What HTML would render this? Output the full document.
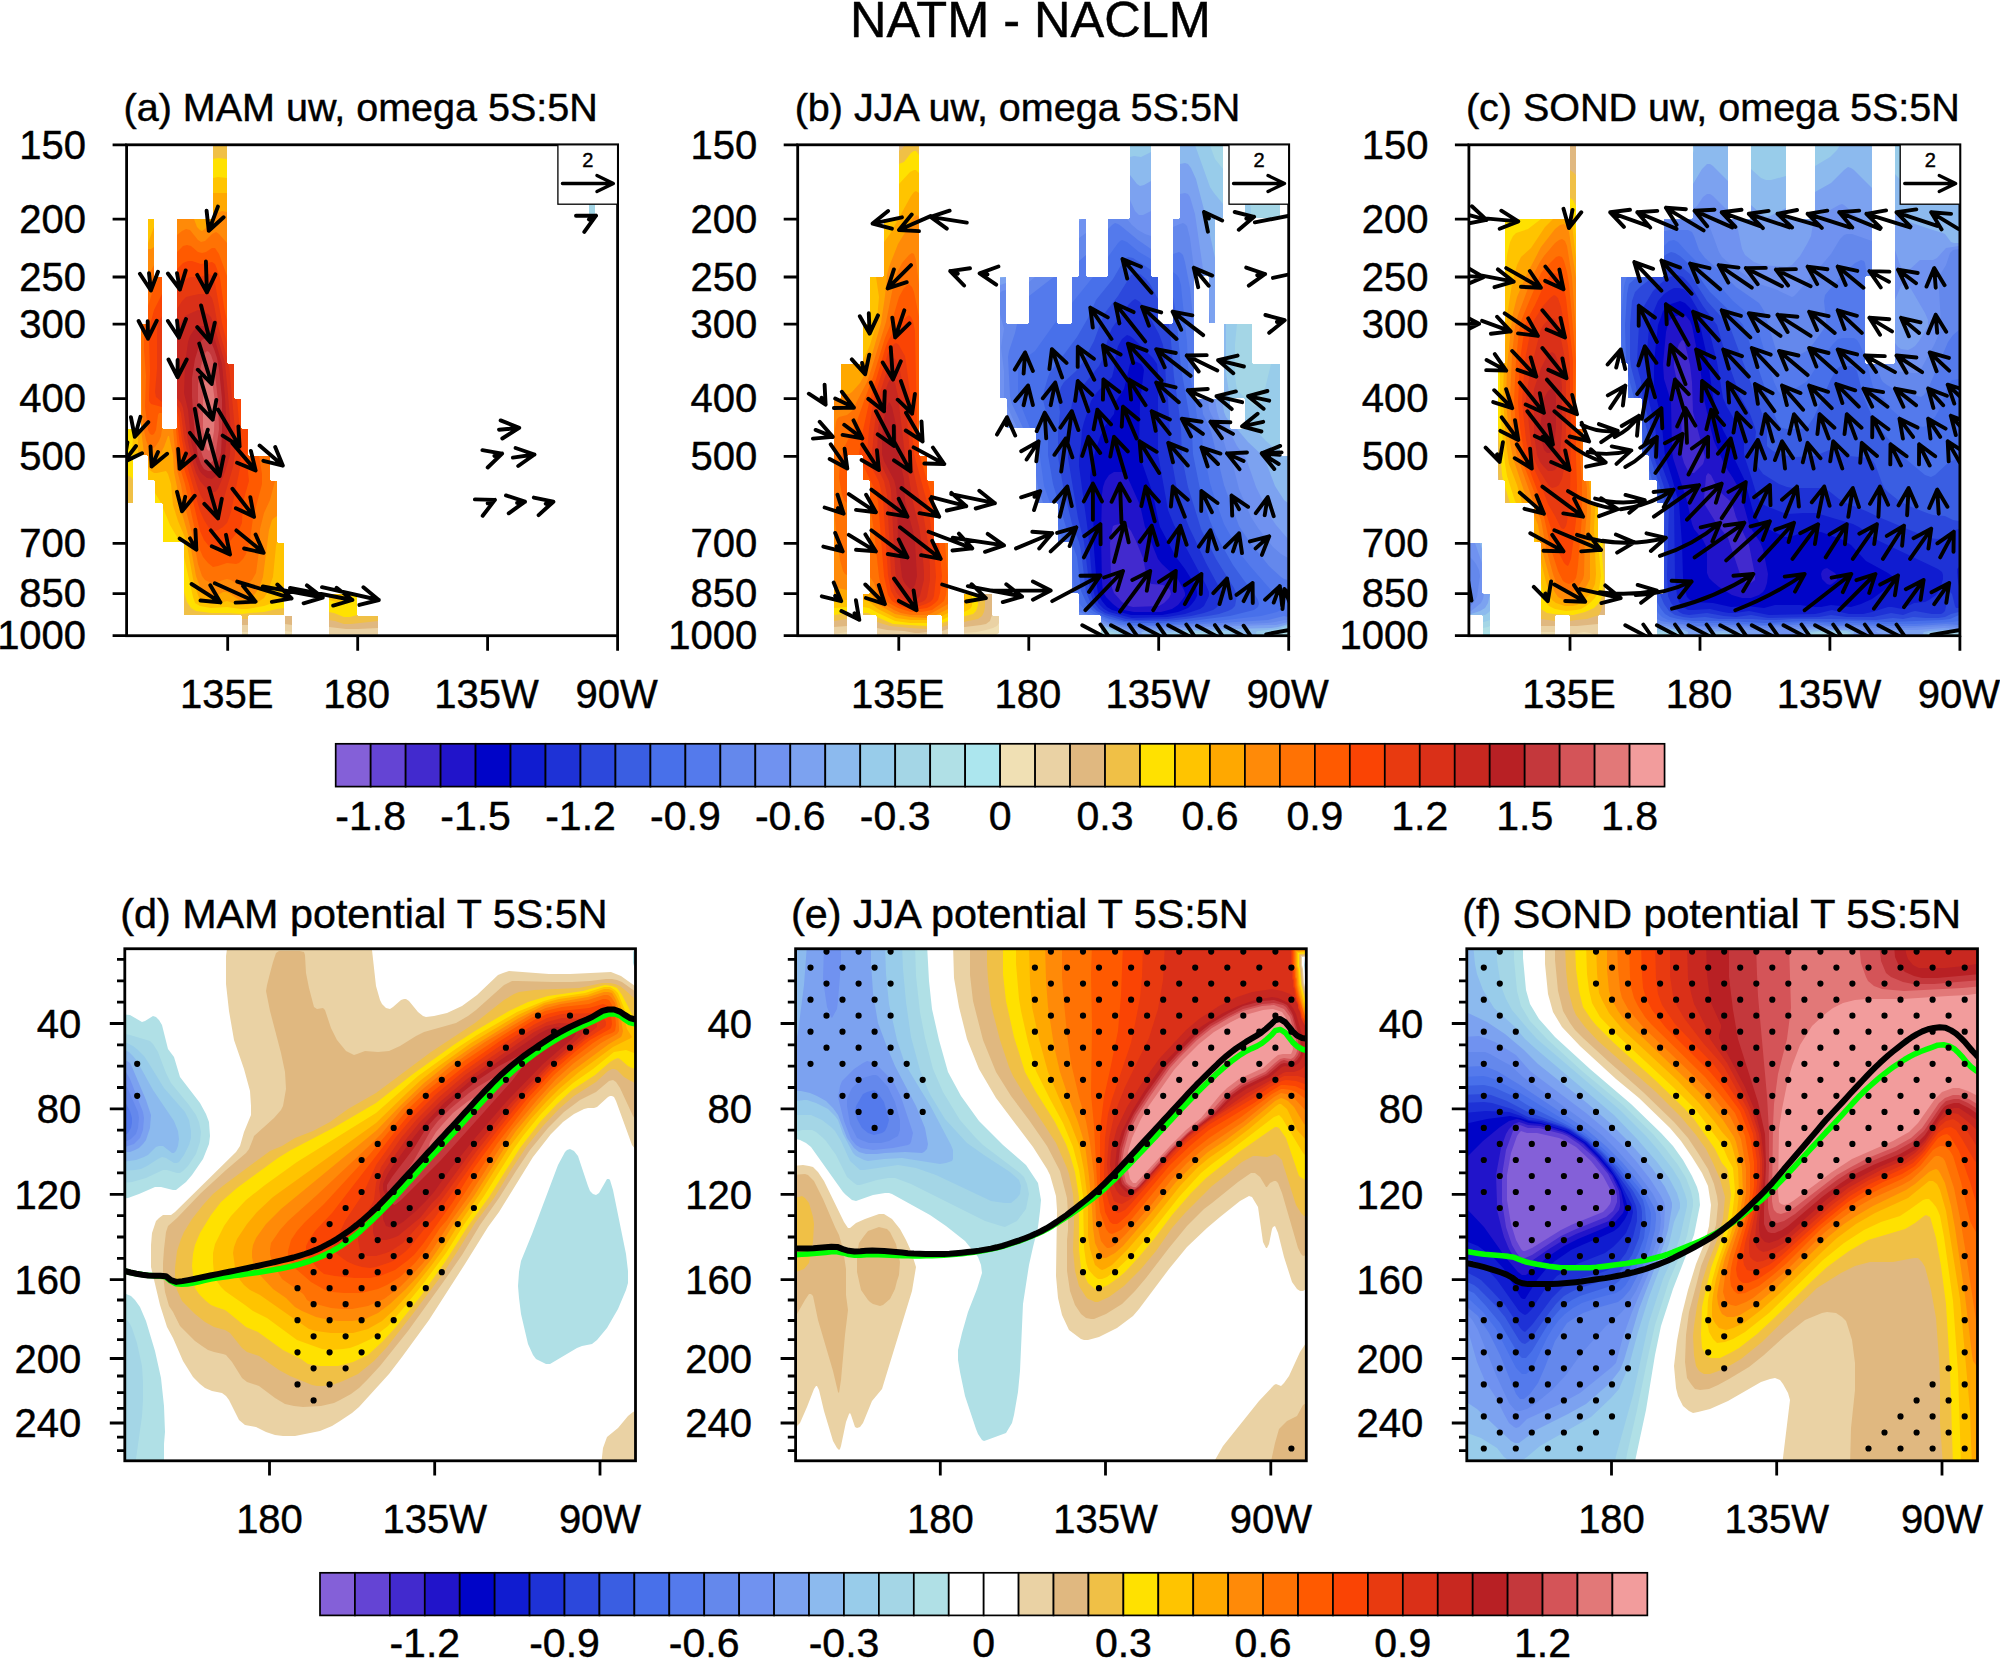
<!DOCTYPE html>
<html><head><meta charset="utf-8"><title>NATM - NACLM</title>
<style>html,body{margin:0;padding:0;background:#fff}svg{display:block}text{font-family:"Liberation Sans",sans-serif;fill:#000;stroke:#000;stroke-width:.45px}</style>
</head><body>
<svg width="2000" height="1659" viewBox="0 0 2000 1659">
<rect width="2000" height="1659" fill="#fff"/>
<defs>
<clipPath id="ct0"><rect x="126.6" y="144.8" width="491" height="490.90"/></clipPath>
<clipPath id="ct1"><rect x="797.7" y="144.8" width="491" height="490.90"/></clipPath>
<clipPath id="ct2"><rect x="1468.9" y="144.8" width="491" height="490.90"/></clipPath>
</defs>
<g clip-path="url(#ct0)" fill-rule="evenodd">
<path fill="#f0e0b4" d="M248 635l-6 0 0-19-1-1-57 0 0-72-1-1-20 0 0-38-1-1-7 0 0-22-1-1-6 0 0-24-1-1-13 0-1 1 0 47-6 0 0-74 13 0 1-1 0-104 6 0 1-1 0-104 6 0 0 57 1 1 7 0 0 151 1 1 5 0 8 0 1-1 0-209 35 0 1-1 0-73 14 0 0 218 1 1 6 0 0 34 1 1 6 0 0 29 1 1 6 0 0 26 1 1 21 0 0 24 1 1 6 0 0 61 1 1 6 0 0 72-35 0-1 1zM378 635l-49 0 0-41 28 0 0 21 1 1 20 0zM292 635l-7 0 0-19 7 0z"/>
<path fill="#ead2a4" d="M248 632l-6 0 0-16-1-1-57 0 0-72-1-1-20 0 0-38-1-1-7 0 0-22-1-1-6 0 0-24-1-1-13 0-1 1 0 47-6 0 0-74 13 0 1-1 0-104 6 0 1-1 0-104 6 0 0 57 1 1 7 0 0 151 1 1 5 0 8 0 1-1 0-209 35 0 1-1 0-73 14 0 0 218 1 1 6 0 0 34 1 1 6 0 0 29 1 1 6 0 0 26 1 1 21 0 0 24 1 1 6 0 0 61 1 1 6 0 0 72-35 0-1 1zM367 634l-38 0 0-40 28 0 0 21 1 1 20 0 0 18zM292 632l-7-1 0-15 7 0z"/>
<path fill="#e0b880" d="M248 625l-6 0 0-9-1-1-57 0 0-72-1-1-20 0 0-38-1-1-7 0 0-22-1-1-6 0 0-24-1-1-13 0-1 1 0 47-6 0 0-74 13 0 1-1 0-104 6 0 1-1 0-104 6 0 0 57 1 1 7 0 0 151 1 1 5 0 8 0 1-1 0-209 35 0 1-1 0-73 14 0 0 218 1 1 6 0 0 34 1 1 6 0 0 29 1 1 6 0 0 26 1 1 21 0 0 24 1 1 6 0 0 61 1 1 6 0 0 72-35 0-1 1zM358 629l-12 0-17-2 0-33 28 0 0 21 1 1 20 0 0 12zM292 625l-7-1 0-8 7 0z"/>
<path fill="#f0c046" d="M242 619l0-3-1-1-57 0 0-72-1-1-20 0 0-38-1-1-7 0 0-22-1-1-6 0 0-24-1-1-13 0-1 1 0 47-6 0 0-74 13 0 1-1 0-104 6 0 1-1 0-104 6 0 0 57 1 1 7 0 0 151 1 1 5 0 8 0 1-1 0-209 35 0 1-1 0-73 14 0 0 218 1 1 6 0 0 34 1 1 6 0 0 29 1 1 6 0 0 26 1 1 21 0 0 24 1 1 6 0 0 61 1 1 6 0 0 72-35 0-1 1 0 3zM351 624l-7 0-9-3-6-1 0-26 28 0 0 21 1 1 20 0 0 5z"/>
<path fill="#ffe100" d="M250 613l-8 1-13-1-18 0-15-2-5-3-4-6-3-10 0-49-1-1-20 0 0-38-1-1-7 0 0-22-1-1-6 0 0-24-1-1-13 0-1 1 0 24-2-3-4-2 0-46 13 0 1-1 0-104 6 0 1-1 0-104 6 0 0 57 1 1 7 0 0 151 1 1 13 0 1-1 0-209 35 0 1-1 0-59 5-1 9 1 0 204 1 1 6 0 0 34 1 1 6 0 0 29 1 1 6 0 0 26 1 1 21 0 0 24 1 1 6 0 0 61 1 1 6 0 0 65-7 1-13 3zM350 617l-6 0-10-4-5-1 0-18 28 0 0 21z"/>
<path fill="#ffc400" d="M247 609l-6 0-14-2-16 1-11-2-5-3-2-6-9-40 0-14-1-1-3 0-10-17-7-17 0-4-1-1-1 0-6-10 0-12-1-1-6 0 0-24-1-1-13 0-1 1-1-3 1-17-1-7 8 0 1-1 0-104 6 0 1-1 0-104 6 0 0 57 1 1 7 0 0 151 1 1 13 0 1-1 0-209 35 0 1-1 0-40 5-1 9 1 0 185 1 1 6 0 0 34 1 1 6 0 0 29 1 1 6 0 0 26 1 1 21 0 0 24 1 1 6 0 0 61 1 1 6 0 0 56-20 7zM343 604l-14-4 0-6 24 0-4 7-3 2z"/>
<path fill="#ffa800" d="M247 605l-7 0-13-4-11 3-5 0-8-3-4-3-2-6-4-13-7-39-8-19-5-16-2-21-3-10-2-3-9 2-3 0-3-2-3-3 0-12-1-1-8 0-1-3 0-13-1-10 3 0 1-1 0-104 6 0 1-1 0-80 6-16 0 49 1 1 7 0 0 151 1 1 13 0 1-1 0-209 35 0 1-1 0-25 5 0 9 0 0 170 1 1 6 0 0 34 1 1 6 0 0 29 1 1 6 0 0 26 1 1 21 0 0 24 1 1 6 0 0 60-1 5-3 31-6 16-3 5-6 4z"/>
<path fill="#ff8a08" d="M246 600l-4 0-3 0-10-7-3-1-3 0-8 5-4 0-6-4-5-6-4-11-7-38-10-35-2-16-3-15-1-17-4-19-1 0-4 11-6 11-3 3-4 1-3-2 0-4-1-1-3 0 0-1-3-25 0-105 6 0 1-1 0-74 3 0 3-2 0 29 1 1 7 0 0 151 1 1 13 0 1-1 0-209 17 0 3 8 3 3 2 1 4-3 11-15 5-2 5 1 0 151 1 1 6 0 0 34 1 1 6 0 0 29 1 1 6 0 0 26 1 1 21 0 0 24 1 1 6 0 0 35-3 2-2 2-3 10-6 47-3 9-5 8-4 4z"/>
<path fill="#ff7204" d="M245 586l-3 1-2-1-9-6-4-1-4 1-8 3-4 0-6-3-3-4-4-12-4-22-6-24-4-15-3-18-4-15-4-41 3 0 1-1 0-193 5-4 4-2 4 1 8 10 3 2 4-1 7-7 4-2 3 2 8 9 0 120 1 1 6 0 0 34 1 1 6 0 0 29 1 1 6 0 0 26 1 1 21 0 0 24 1 1 4 0-5 19-6 13-2 8-2 8-1 22-3 22-4 7zM152 449l-2 0-1-1-3-8-2-10-2-20-1-86 6 0 1-1 0-47 6-11 0 11 1 1 7 0 0 152-1 7-2 5-4 6z"/>
<path fill="#ff5a00" d="M218 566l-5 1-5-4-5-6-3-7-4-15-11-51-5-16-3-27-1-12 1-1 0-176 6-6 4-1 4 1 7 6 4 1 4-1 6-4 3 0 4 6 8 22 0 87 1 1 6 0 0 34 1 1 6 0 0 29 1 1 6 0 0 26 1 1 10 0 3 18 0 10-9 34-3 22-4 14-3 5-4 4-3 1-9-1zM152 435l-2-1-2-4-3-23 1-31-2-26 0-24 1-2 2 0 1-1 0-17 5-16 6-13 3 0 0 136-3 0-1 2-2 15-2 4z"/>
<path fill="#fa4404" d="M217 549l-4 0-5-4-4-5-4-9-11-47-6-19-4-27-2-18 0-151 6-6 5-2 4 0 9 3 11-2 3 2 2 5 3 9 4 29 3 14 0 42 1 1 6 0 0 34 1 1 6 0 0 29 1 1 6 0-1 33 2 19-6 21-1 21-3 7-8 10-5 4zM162 407l-11-3-2-3 0-5 1-25-1-31 1-15 4-15 8-16z"/>
<path fill="#e83a10" d="M218 530l-3 1-2 0-4-3-5-8-4-9-14-49-4-22-3-22-2-7 0-121 5-8 4-3 4-2 10 0 9-3 2 1 2 1 2 7 7 40 5 20 0 20 1 1 6 0 0 1 0 33 1 1 2 0 3 33 1 23-1 13-9 44-2 6-2 5-4 4zM162 402l-6-5-1-5 2-23 0-39 1-7 4-7z"/>
<path fill="#da3018" d="M214 509l-3 0-5-5-5-8-3-7-9-29-5-22-3-25-2-5-2-3 0-96 5-8 4-4 4-1 9-2 10 0 3 4 2 7 4 21 9 32 0 5 2 2 6 65 0 24-2 13-9 31-5 8z"/>
<path fill="#c82820" d="M215 492l-4 0-5-4-6-7-4-8-4-13-4-18-5-34-2-5-4-5 0-59 2-11 2-6 4-6 6-3 7-3 5 1 5 3 3 3 3 8 11 38 3 31 3 38-1 23-5 17-7 17z"/>
<path fill="#b82024" d="M212 479l-5-1-5-4-3-4-3-8-5-21-3-31-4-17 1-29 3-22 2-6 4-6 3-3 4-1 4 0 4 3 3 4 3 7 7 24 3 33 2 36-2 21-2 8-3 8-4 6z"/>
<path fill="#c4383c" d="M211 471l-3 0-4-2-3-5-3-8-3-19-3-40 0-19 3-19 5-16 2-3 3-2 3 1 3 3 3 7 3 9 2 11 3 30 0 33-1 21-2 6-2 5-3 5z"/>
<path fill="#d45458" d="M210 463l-3 0-2-2-2-4-2-6-2-20-1-30 0-17 3-18 3-11 1-2 2-2 2 1 2 3 3 9 4 37 1 28-3 22-2 8-2 3z"/>
<path fill="#e27878" d="M210 450l-1 1-2-2-2-10-2-11 0-25 1-20 2-8 2-4 1 0 1 1 2 8 3 22-1 29-2 13z"/>
<path fill="#ace6ee" d="M595 218l0-73-6 0 0 73z"/>
<path fill="#b0e0e6" d="M595 218l0-73-6 0 0 73z"/>
<path fill="#a4d6e6" d="M595 218l0-73-6 0 0 73z"/>
</g>
<g clip-path="url(#ct1)" fill-rule="evenodd">
<path fill="#f0e0b4" d="M948 635l-6 0 0-19-1-1-13 0-1 1 0 19-50 0 0-19-1-1-13 0 0-21 6 0 1-1 0-112-1-1-6 0 0-24-1-1-14 0-1 1 0 179-13 0 0-236 6 0 1-1 0-34 21 0 1-1 0-39 6 0 1-1 0-46 13 0 1-1 0-57 14 0 1-1 0-73 20 0 0 310 1 1 7 0 0 24 1 1 6 0 0 61 1 1 13 0zM996 635l-32 0 0-41 28 0 0 21 1 1 6 0 0 17z"/>
<path fill="#ead2a4" d="M927 635l-50 0 0-19-1-1-13 0 0-21 6 0 1-1 0-112-1-1-6 0 0-24-1-1-14 0-1 1 0 176-13 2 0-235 6 0 1-1 0-34 21 0 1-1 0-39 6 0 1-1 0-46 13 0 1-1 0-57 14 0 1-1 0-73 20 0 0 310 1 1 7 0 0 24 1 1 6 0 0 61 1 1 13 0 0 91-6 1 0-19-1-1-13 0-1 1zM977 632l-13 1 0-39 28 0 0 21 1 1 6 0 0 7-2 3-4 2-7 2z"/>
<path fill="#e0b880" d="M919 633l-4 0-11-2-17-1-10-2 0-12-1-1-13 0 0-21 6 0 1-1 0-112-1-1-6 0 0-24-1-1-14 0-1 1 0 170-13 1 0-228 6 0 1-1 0-34 21 0 1-1 0-39 6 0 1-1 0-46 13 0 1-1 0-57 14 0 1-1 0-73 20 0 0 310 1 1 7 0 0 24 1 1 6 0 0 61 1 1 13 0 0 86-6 2 0-15-1-1-13 0-1 1 0 16zM965 627l-1 0 0-33 28 0 0 21-2 6-4 3-5 1z"/>
<path fill="#f0c046" d="M927 629l-17-1-20-2-13-4 0-6-1-1-13 0 0-21 6 0 1-1 0-112-1-1-6 0 0-24-1-1-14 0-1 1 0 163-13 2 0-222 6 0 1-1 0-34 21 0 1-1 0-39 6 0 1-1 0-46 13 0 1-1 0-57 14 0 1-1 0-67 3-2 3-4 14 0 0 310 1 1 7 0 0 24 1 1 6 0 0 61 1 1 13 0 0 82-6 2 0-11-1-1-13 0-1 1zM968 621l-4 1 0-28 21 0 0 13-1 5-2 4-4 3z"/>
<path fill="#ffe100" d="M927 626l-18-1-16-1-16-7-1-2-4 0-4-2-5 0 0-19 6 0 1-1 0-112-1-1-6 0 0-24-1-1-14 0-1 1 0 157-13 2 0-216 6 0 1-1 0-34 21 0 1-1 0-39 6 0 1-1 0-46 13 0 1-1 0-57 14 0 1-1 0-54 5-2 7-9 3-2 2 0 3 4 0 300 1 1 7 0 0 24 1 1 6 0 0 61 1 1 13 0 0 78-6 2 0-7-1-1-13 0-1 1zM965 616l-1 0 0-22 14 0 0 11-2 6-3 3z"/>
<path fill="#ffc400" d="M927 623l-17 0-15-2-17-8-9-5-6-1 0-13 6 0 1-1 0-112-1-1-6 0 0-24-1-1-14 0-1 1 0 151-13 1 0-209 6 0 1-1 0-34 21 0 1-1 0-39 6 0 1-1 0-46 13 0 1-1 0-57 14 0 1-1 0-34 11-12 4-2 2 0 3 3 0 282 1 1 7 0 0 24 1 1 6 0 0 61 1 1 13 0 0 74-6 3 0-4-1-1-13 0-1 1zM966 611l-2 1 0-18 8 0 0 12-2 3z"/>
<path fill="#ffa800" d="M927 620l-16 0-15-2-18-9-10-8-5-1 0-6 6 0 1-1 0-112-1-1-6 0 0-24-1-1-14 0-1 1 0 144-13-1 0-200 6 0 1-1 0-34 21 0 1-1 0-4 3-5 4-9 7-24 1-13 1-11-3-20 7 0 1-1 0-34 6-8 21-38 3-4 2-1 3 2 0 262 1 1 7 0 0 24 1 1 6 0 0 61 1 1 13 0 0 70-6 3-1-1-13 0-1 1zM964 606l0-12 1 0 0 9z"/>
<path fill="#ff8a08" d="M927 618l-17-1-15-3-16-9-4-4-5-9 0-111-1-1-6 0 0-24-1-1-14 0-1 1 0 134-9-2-3-2-1-3 0-184 6 0 1-1 0-9 3 4 2 1 3 0 3-2 8-9 6-11 5-14 10-35 4-27 2-21 2-8 9-23 8-13 7-13 2-2 2-1 2 2 0 238 1 1 7 0 0 24 1 1 6 0 0 61 1 1 13 0 0 66-12 6-8 0-1 1z"/>
<path fill="#ff7204" d="M921 615l-10 0-10-2-7-3-10-6-4-5-6-16-4-6 0-96-1-1-6 0 0-24-1-1-14 0-1 1 0 119-2-1-2-3-3-11-3-20-3-30 0-63 1-18 1-7 1-3 2-2 8-2 5-4 15-29 5-15 14-45 7-35 4-14 5-10 7-8 3-2 2 1 2 6 3 25 0 170 1 1 7 0 0 24 1 1 6 0 0 61 1 1 13 0 0 61-16 9-5 2z"/>
<path fill="#ff5a00" d="M921 612l-10 0-13-4-11-6-2-3-2-3-4-19-5-46-2-13-2-8 0-29-1-1-6 0 0-24-1-1-14 0-1 1 0 47-3-3-2-5-3-17 1-16 3-12 14-29 7-20 9-24 12-39 7-17 7-24 5-9 3-3 2-1 3 3 2 5 5 25 0 138 1 1 7 0 0 24 1 1 5 0 1 3 0 58 1 1 10 0 3 35-2 17-2 6-5 4-7 5-5 1z"/>
<path fill="#fa4404" d="M920 609l-9 0-11-3-8-5-4-6-4-19-6-75-4-13-11-23 0-9-1-1-2 0-1-1 4-24 6-27 17-57 3-7 3-5 7-8 6-8 4-3 2 2 2 4 2 10 2 96 2 28 1 1 14 49 0 37 1 1 4 0 3 33-2 17-2 7-3 3-4 3-4 2z"/>
<path fill="#e83a10" d="M920 606l-5 1-4 0-10-4-6-5-4-7-3-16-5-76-4-17-11-22-1-6 2-25 5-31 14-45 4-7 2-2 2-1 3 2 2 4 4 7 1 6 5 39 1 30 2 23 14 52 6 42 2 29-2 19-1 3-3 3-4 2z"/>
<path fill="#da3018" d="M914 604l-7-2-6-4-5-6-3-8-2-11-4-78-3-14-10-20-2-7 2-24 4-31 11-35 3-5 2-1 2 2 3 6 5 24 2 17 4 48 14 64 4 24 2 24 0 13-3 17-2 3-3 2z"/>
<path fill="#c82820" d="M914 600l-5-1-4-3-6-9-3-7-1-12-4-78-2-9-10-21-2-7 1-23 4-29 6-18 2-4 2-1 1 1 2 4 3 13 7 59 4 23 3 20 7 28 3 20 2 26 0 8-4 16-3 3z"/>
<path fill="#b82024" d="M912 589l-2 0-3-3-3-4-2-5-4-35-1-44-1-10-2-8-10-19-2-7 0-14 1-15 3-17 3-6 1 1 2 4 4 18 2 28 6 26 1 22 8 30 2 11 2 34-2 9z"/>
<path fill="#ace6ee" d="M1288 635l0-179-7 0-1-1 0-91-27 0-1-1 0-39-28 0 0 74-1 1-28 0-1-1 0-121 1-1 13 0 1 1 0 46 6 0 0-104 1-1 7 0 0-73-43 0 0 73-1 1-6 0 0 104-1 1-13 0-1-1 0-46-6 0-1-1 0-131-21 0 0 73-1 1-21 0 0 57-1 1-20 0-1-1 0-57-7 0 0 57-1 1-6 0 0 46-1 1-13 0-1-1 0-46-28 0 0 46-1 1-21 0-1-1 0-46-6 0 0 121 6 0 1 1 0 29 28 0 1 1 0 74 21 0 1 1 0 38 13 0 1 1 0 50 6 0 1 1 0 21 21 0 1 1 0 19zM1280 218l0-73-35 0 0 73zM1244 429l-13 0-1-1 0-29 1-1 13 0 1 1 0 29z"/>
<path fill="#b0e0e6" d="M1288 635l0-179-7 0-1-1 0-91-27 0-1-1 0-39-28 0 0 74-1 1-28 0-1-1 0-121 1-1 13 0 1 1 0 46 6 0 0-104 1-1 7 0 0-73-43 0 0 73-1 1-6 0 0 104-1 1-13 0-1-1 0-46-6 0-1-1 0-131-21 0 0 73-1 1-21 0 0 57-1 1-20 0-1-1 0-57-7 0 0 57-1 1-6 0 0 46-1 1-13 0-1-1 0-46-28 0 0 46-1 1-21 0-1-1 0-46-6 0 0 121 6 0 1 1 0 29 28 0 1 1 0 74 21 0 1 1 0 38 13 0 1 1 0 50 6 0 1 1 0 21 21 0 1 1 0 19zM1280 218l0-73-35 0 0 73zM1244 429l-13 0-1-1 0-29 1-1 13 0 1 1 0 29z"/>
<path fill="#a4d6e6" d="M1281 635l7-5 0-174-7 0-1-1 0-91-27 0-1-1 0-39-28 0 0 74-1 1-28 0-1-1 0-121 1-1 13 0 1 1 0 46 6 0 0-104 1-1 7 0 0-73-43 0 0 73-1 1-6 0 0 104-1 1-13 0-1-1 0-46-6 0-1-1 0-131-21 0 0 73-1 1-21 0 0 57-1 1-20 0-1-1 0-57-7 0 0 57-1 1-6 0 0 46-1 1-13 0-1-1 0-46-28 0 0 46-1 1-21 0-1-1 0-46-6 0 0 121 6 0 1 1 0 29 28 0 1 1 0 74 21 0 1 1 0 38 13 0 1 1 0 50 6 0 1 1 0 21 21 0 1 1 0 16 14 3zM1280 218l0-73-35 0 0 73zM1244 429l-13 0-1-1 0-29 1-1 13 0 1 1 0 29z"/>
<path fill="#98ccea" d="M1270 635l12-4 6-4 0-171-7 0-1-1 0-91-9 0-10 41-1 1-2 1-5-2-13-12-3-4-1-5-1-9 0-31 2-20-13 0 0 74-1 1-28 0-1-1 0-121 1-1 13 0 1 1 0 46 6 0 0-104 1-1 7 0 0-49-8-10-3-8-2-6-30 0 0 73-1 1-6 0 0 104-1 1-13 0-1-1 0-46-6 0-1-1 0-131-21 0 0 73-1 1-21 0 0 57-1 1-20 0-1-1 0-57-7 0 0 57-1 1-6 0 0 46-1 1-13 0-1-1 0-46-28 0 0 46-1 1-21 0-1-1 0-46-6 0 0 121 6 0 1 1 0 29 28 0 1 1 0 74 21 0 1 1 0 38 13 0 1 1 0 50 6 0 1 1 0 21 21 0 1 1 0 14 17 3 3 2 56 0 6-2 16 0 6 0 4 2zM1251 218l0-9-1-7-2-5-3-4 0 25zM1244 429l-13 0-1-1 0-29 1-1 13 0 1 1 0 29z"/>
<path fill="#8cbaee" d="M1257 635l-1-2 0-1 2-1 20-2 10-4 0-169-7 0-1-1 0-4-7-4-7-6-21-22 0 9-1 1-13 0-1-1 0-29-4-26 0-49-2 0 0 74-1 1-28 0-1-1 0-121 1-1 13 0 1 1 0 46 6 0 0-104 1-1 7 0 0-14-9-11-4-6-15-42-15 0 0 73-1 1-6 0 0 104-1 1-13 0-1-1 0-46-6 0-1-1 0-124-10 5-7-1-4 1 0 61-1 1-21 0 0 57-1 1-20 0-1-1 0-57-7 0 0 57-1 1-6 0 0 46-1 1-13 0-1-1 0-46-5 0-23 0 0 46-1 1-21 0-1-1 0-46-6 0 0 121 6 0 1 1 0 29 28 0 1 1 0 74 21 0 1 1 0 38 13 0 1 1 0 50 6 0 1 1 0 21 21 0 1 1 0 11 20 5 1 1 1 2 25 0 1-1 2 0 18-1 13-2 19 0 29 0 3 1 1 1-1 2z"/>
<path fill="#7ca2f0" d="M1143 635l-2-2 1-1 4-1 125-3 7-1 10-3 0-121-4-3-9-14-9-24-3-6-15-14-11-13-6 0-1-1 0-6-4-5-2-5-2-13-27 0-1-1 0-121 1-1 13 0 1 1 0 46 6 0 0-65-8-37-11-42-5-11-3-4-3-1-5 1 0 54-1 1-6 0 0 104-1 1-13 0-1-1 0-46-6 0-1-1 0-95-7 4-4 1-3-2-7-9 0 43-1 1-21 0 0 57-1 1-20 0-1-1 0-57-7 0 0 57-1 1-6 0 0 46-1 1-13 0-1-1 0-46-5 0-23 0 0 46-1 1-21 0-1-1 0-46-6 1 0 120 6 0 1 1 0 29 28 0 1 1 0 74 21 0 1 1 0 38 13 0 1 1 0 50 6 0 1 1 0 21 21 0 1 1 0 9 10 3 13 3 2 2-1 2z"/>
<path fill="#7092f0" d="M1147 629l122-4 7 0 12-3 0-83-12-14-4-6-16-32-10-29-9-12-6-12-12-16-2-7-2-12-20 0-1-1 0-121 1-1 9 0-9-62-5-17-2-3-3-1-5 1 0 24-1 1-6 0 0 104-1 1-13 0-1-1 0-46-6 0-1-1 0-65-8 4-4 0-4-4-5-11 0 18-1 1-21 0 0 57-1 1-20 0-1-1 0-57-4 0-3 2 0 55-1 1-6 0 0 46-1 1-13 0-1-1 0-46-28 0 0 46-1 1-21 0-1-1 0-40-6 2 0 113 6 0 1 1 0 18 5 11 23 0 1 1 0 74 21 0 1 1 0 38 13 0 1 1 0 50 6 0 1 1 0 21 21 0 1 1 0 7 13 4 17 3zM1210 323l-1-16 0 16zM1139 635l-6-1-5 1z"/>
<path fill="#6488ec" d="M1172 627l95-4 8-1 9-2 4 0 0-62-7-4-8-7-15-19-7-11-12-28-7-28-6-12-4-14-11-21-2-5-1-10-13 0-1-1 0-121 1-1-5-38-3-12-2-2-2-1-3 1-7 3 0 96-1 1-13 0-1-1 0-46-6 0-1-1 0-40-6-2-7-4-6-5-5-6-19 0 0 57-1 1-20 0-1-1 0-43-7 5 0 38-1 1-6 0 0 46-1 1-13 0-1-1 0-46-22 0-6 5 0 41-1 1-21 0-1-1 0-33-4 1-2 2 0 21 4 15-3 18 3 24 0 26 0 1 2 0 1 1 0 7 10 22 18 0 1 1 0 72 1 2 20 0 1 1 0 38 13 0 1 1 0 50 6 0 1 1 0 21 21 0 1 1 0 5 11 4 11 2 11 1z"/>
<path fill="#547aec" d="M1156 626l64-3 48-3 16-4 4 1 0-37-4-1-3-2-12-11-20-25-10-15-15-41-8-33-5-21-8-17-2-15-6 0-1-1 0-70-4-40-5-26-2-7-2-2-2-1-6 2 0 69-1 1-13 0-1-1 0-46-6 0-1-1 0-27-13-9-17-14-3-2-3-1-3 2-4 4 0 47-1 1-20 0-1-1 0-21-7 6 0 15-1 1-6 0 0 46-1 1-13 0-1-1 0-46-3 0-3 2-22 17 0 27-1 1-11 0-2 9-6 18-1 6 2 39 2 8 11 24 12 0 1 1 0 46 2 13 5 15 14 0 1 1 0 38 13 0 1 1 0 50 6 0 1 1 0 18 10 3 11 0 1 1 0 3 9 4 10 2 11 1z"/>
<path fill="#4870ea" d="M1172 624l45-3 44-5 16-4 6-3 1-2-1-3-5-6-28-32-8-10-18-32-10-28-4-13-7-34-1-18-5-14-3-22-6-28-1-25-5-46-1-11-2-7-2-3-4-3 0 51-1 1-13 0-1-1 0-46-6 0-1-1 0-17-12-7-12-10-5-2-2 1-2 2-10 14 0 19-1 1-14 0-21 26 0 20-1 1-13 0-1-1 0-3-22 31-15 11-2 7 0 29 12 30 5 0 1 1 0 15 4 13 4 29 6 17 7 0 1 1 0 21 3 11 3 6 7 0 1 1 0 24 2 21 1 5 3 0 1 1 0 9 4 5 6 4 7 3 4 0 1 1 0 1 5 2 13 4 14 2z"/>
<path fill="#3a5ee2" d="M1159 623l32-2 39-5 24-6 4-3 1-3-1-4-3-5-12-16-10-14-17-30-6-14-10-32-7-35-1-22-2-12-4-24-5-28-5-55-3-16 0 26-1 1-13 0-1-1 0-46-6 0-1-1 0-6-18-12-5-1-2 1-2 2-11 19-17 21-8 18-11 19-18 24-9 11-2 5-4 14-1 9 5 20 0 35 5 29 13 43 11 30 4 34 5 11 3 5 4 4 9 5 8 3 19 4z"/>
<path fill="#2c48dc" d="M1167 621l19-2 22-3 11-2 9-3 4-2 3-3 2-11-3-7-18-29-15-30-3-10-10-32-6-30-1-28-2-18-2-14-3-20-3-36-2-17-10 0-1-1 0-24-8-15-4-5-6-5-5-1-2 1-2 1-13 21-14 18-10 27-11 21-7 9-12 11-3 5-3 10 2 15-2 20 0 25 5 29 9 38 7 18 2 9 5 41 3 7 3 7 5 5 8 4 20 6 10 0z"/>
<path fill="#1e32d6" d="M1168 619l23-3 13-3 9-3 3-2 3-3 2-6 1-5-2-5-14-26-17-36-10-26-8-45-1-24-1-15-1-17-2-16-1-24-2-15-4-11-11-20-8-12-3-2-2-1-3 2-3 3-17 24-3 7-7 25-3 6-22 27-3 5-2 5-4 25 0 30 10 60 6 24 6 49 2 7 3 6 4 5 6 4 21 6 11 1z"/>
<path fill="#101cd0" d="M1167 617l18-3 15-5 4-3 2-4 3-6 0-4-3-7-32-60-6-15-10-56 0-82-1-8-4-6-19-19-4-3-3-1-5 4-4 7-2 8-2 15-2 8-15 15-6 9-7 21-2 8-1 14-2 15 0 7 9 66 5 57 2 8 4 7 5 5 5 3 23 6z"/>
<path fill="#0004c8" d="M1162 615l16-3 10-4 3-3 4-5 2-4 0-4-1-5-6-10-5-8-9-12-16-30-2-8-5-25-12-34-2-10 1-47 3-25 1-8-1-3-2-3-4-2-4-1-2 1-1 2-6 25-8 12-2 13-9 12-5 11-5 15-4 17-1 8 3 27 1 45 3 38 1 7 4 7 5 6 5 3 19 5z"/>
<path fill="#2114ca" d="M1161 612l11-3 6-4 4-5 3-4 0-3-1-3-7-12-15-14-4-5-13-32-5-22-13-29-2-3-3-1-8 0-5 3-4 6-2 6-1 7-1 42 1 46 1 10 3 5 7 7 5 4 6 2 10 2z"/>
<path fill="#422ace" d="M1159 606l5-3 5-5 2-4-1-4-3-3-4-2-11-1-3-1-2-5-4-20-7-17-5-10-3-4-3-2-5-1-5 1-2 1-1 4-2 13 1 34 1 11 2 5 8 9 7 4 4 1z"/>
</g>
<g clip-path="url(#ct2)" fill-rule="evenodd">
<path fill="#f0e0b4" d="M1598 635l-28 0 0-19-1-1-13 0-1 1 0 19-14 0 0-92-1-1-6 0 0-38-1-1-28 0 0-22-1-1-6 0 0-116 6 0 1-1 0-144 64 0 1-1 0-73 6 0 0 283 1 1 6 0 0 51 1 1 7 0 0 22 1 1 6 0 0 38 1 1 6 0 0 72-6 0-1 1z"/>
<path fill="#ead2a4" d="M1598 635l-3 0-5-2-6-1-6 1-3 2-5 0 0-19-1-1-13 0-1 1 0 16-14 0 0-89-1-1-6 0 0-38-1-1-28 0 0-22-1-1-6 0 0-116 6 0 1-1 0-144 64 0 1-1 0-73 6 0 0 283 1 1 6 0 0 51 1 1 7 0 0 22 1 1 6 0 0 38 1 1 6 0 0 72-6 0-1 1z"/>
<path fill="#e0b880" d="M1577 626l-7 0 0-10-1-1-13 0-1 1 0 10-14 0 0-83-1-1-6 0 0-38-1-1-28 0 0-22-1-1-6 0 0-116 6 0 1-1 0-144 64 0 1-1 0-73 6 0 0 283 1 1 6 0 0 51 1 1 7 0 0 22 1 1 6 0 0 38 1 1 6 0 0 72-6 0-1 1 0 8z"/>
<path fill="#f0c046" d="M1576 620l-6 1 0-5-1-1-13 0-1 1 0 5-14-2 0-76-1-1-6 0 0-38-1-1-28 0 0-22-1-1-5 0-1-8 0-108 6 0 1-1 0-144 64 0 1-1 0-48 3 2 3 3 0 253 1 1 6 0 0 51 1 1 7 0 0 22 1 1 6 0 0 38 1 1 6 0 0 54-4 14-2 4-3 1-9 3z"/>
<path fill="#ffe100" d="M1573 615l-19-1-7-1-6-4 0-66-1-1-6 0 0-38-1-1-23 0-5-16 0-6-2-1-1-5-4-49 0-62 6 0 1-1 0-144 64 0 1-1 0-20 3 2 3 6 0 222 1 1 6 0 0 51 1 1 7 0 0 22 1 1 6 0 0 38 1 1 4 0-1 11 2 24-2 18-2 5-2 3-4 4-9 4z"/>
<path fill="#ffc400" d="M1576 610l-10 1-11-2-6-3-4-5-4-18 0-40-1-1-6 0 0-38-1-1-17 0-1-2-8-25-2-12-4-43-1-20 0-37 4 0 1-1 0-87 2-21 3-13 3-6 3-3 12-4 13-10 28 0 1-1 0-11 2 4 2 6 2 19 0 192 1 1 6 0 0 51 1 1 7 0 0 22 1 1 6 0 0 38 1 1 0 10 2 23-2 13-2 5-2 4-4 4-5 4-5 3z"/>
<path fill="#ffa800" d="M1573 606l-8 0-9-3-4-3-3-7-4-15-4-16 0-19-1-1-3 0-3-11 0-27-1-1-11 0-5-18-8-21-3-21-3-45 1-34 1-1 0-18 2-29 5-32 5-19 4-8 10-9 14-21 6-6 2-2 16 0 1-1 2 6 4 34 0 170 1 1 6 0 0 51 1 1 7 0 0 22 1 1 2 0 1 2 0 5-1 17 2 46-1 10-4 9-9 9-5 3z"/>
<path fill="#ff8a08" d="M1572 601l-3 0-4 0-7-4-4-6-4-12-8-29-4-25-4-10 0-11-1-1-5 0-15-45-4-21-3-38 1-32 4-39 2-15 4-16 10-23 14-27 14-18 5-4 4-1 3 2 2 6 7 46 0 150 1 1 6 0 0 51 1 1 5 0 2 27-1 21 0 43 0 7-3 6-4 6-6 7z"/>
<path fill="#ff7204" d="M1571 593l-2 1-3-1-5-3-5-8-3-8-7-26-5-28-8-19-16-45-5-27-2-29 2-45 3-28 3-12 15-40 7-13 4-6 11-13 4-3 3-1 3 2 2 5 5 31 4 56 0 95 1 1 6 0 0 51 1 1 2 0 1 8 0 21-2 23-1 42-1 4-3 5-5 6z"/>
<path fill="#ff5a00" d="M1569 584l-3-1-3-2-5-10-7-22-7-32-23-59-5-31-2-26 2-41 3-29 2-10 20-48 4-5 8-8 3-3 3-1 3 1 2 4 3 11 2 12 7 77-1 30 1 37 1 1 4 0 0 4-1 24 2 24 0 13 0 23-4 48-1 8-1 5-3 4z"/>
<path fill="#fa4404" d="M1568 566l-2-1-2-2-5-10-12-37-22-58-5-30-2-25 2-43 5-35 3-7 7-13 10-22 5-7 5-3 3 1 3 5 3 9 2 10 7 62 0 36 3 35 0 26 1 29-1 35-5 38-2 5z"/>
<path fill="#e83a10" d="M1564 529l-1 0-2-1-6-12-7-12-8-22-10-22-4-20-4-38 3-42 6-32 2-6 10-16 7-8 4-3 2 1 2 2 3 9 7 39 2 19 0 31 1 32-1 72-3 22-1 4z"/>
<path fill="#da3018" d="M1556 487l-4 1-3-2-10-16-5-11-3-16-5-43 1-9 3-19 10-40 2-5 3-4 4-4 4-1 2 1 2 3 3 12 5 25 1 15 0 54-1 35-3 16-3 6z"/>
<path fill="#c82820" d="M1552 471l-4 0-4-4-4-5-3-7-3-21 0-21-1-14 1-10 7-21 6-12 3-3 2-1 3 2 3 8 3 13 1 13 0 40-2 29-1 6-2 4-2 3z"/>
<path fill="#b82024" d="M1550 453l-3 0-3-3-3-12-1-10 4-30 4-7 4-3 2 2 2 6 0 32-2 18-2 5z"/>
<path fill="#ace6ee" d="M1959 635l0-490-64 0 0 218-1 1-28 0-1-1 0-86 1-1 6 0 0-131-57 0 0 73-1 1-27 0-1-1 0-73-35 0 0 73-1 1-21 0-1-1 0-73-35 0 0 73-1 1-28 0 0 57-1 1-42 0 0 86 6 0 1 1 0 34 13 0 1 1 0 56 6 0 1 1 0 24 7 0 1 1 0 22 6 0 1 1 0 89-1 1-6 0 0 41zM1490 635l0-41-7 0-1-1 0-50-13 0 0 72 13 0 1 1 0 19z"/>
<path fill="#b0e0e6" d="M1959 635l0-490-64 0 0 218-1 1-28 0-1-1 0-86 1-1 6 0 0-131-57 0 0 73-1 1-27 0-1-1 0-73-35 0 0 73-1 1-21 0-1-1 0-73-35 0 0 73-1 1-28 0 0 57-1 1-42 0 0 86 6 0 1 1 0 34 13 0 1 1 0 56 6 0 1 1 0 24 7 0 1 1 0 22 6 0 1 1 0 89-1 1-6 0 0 41zM1490 632l0-38-7 0-1-1 0-50-13 0 0 72 13 0 1 1 0 17z"/>
<path fill="#a4d6e6" d="M1959 635l0-490-64 0 0 218-1 1-28 0-1-1 0-86 1-1 6 0 0-131-57 0 0 73-1 1-27 0-1-1 0-73-35 0 0 73-1 1-21 0-1-1 0-73-35 0 0 73-1 1-28 0 0 57-1 1-42 0 0 86 6 0 1 1 0 34 13 0 1 1 0 56 6 0 1 1 0 24 7 0 1 1 0 22 6 0 1 1 0 89-1 1-6 0 0 40 19 1zM1488 627l2-1 0-32-7 0-1-1 0-50-13 0 0 72 13 0 1 1 0 12z"/>
<path fill="#98ccea" d="M1929 635l2-1 4-1 24 0 0-475-7 1-13 6-1 0-5-9-4-4-4-4-5-3-25 0 0 218-1 1-28 0-1-1 0-86 1-1 6 0 0-131-57 0 0 73-1 1-27 0-1-1 0-73-35 0 0 73-1 1-21 0-1-1 0-73-35 0 0 73-1 1-28 0 0 57-1 1-42 0 0 86 6 0 1 1 0 34 13 0 1 1 0 56 6 0 1 1 0 24 7 0 1 1 0 22 6 0 1 1 0 89-1 1-6 0 0 38 19 1 3 0 2 2 129 0 3-2 6-1 25 1 3 0 2 2zM1484 622l6-2 0-26-7 0-1-1 0-50-13 0 0 72 13 0 1 1 0 6z"/>
<path fill="#8cbaee" d="M1926 635l2-2 4-1 27 0 0-454-21 11-9 6-3 1-10-3-6-3-5-5-10-11 0 189-1 1-28 0-1-1 0-86 1-1 6 0 0-131-32 0-3 5-7 7-15 9 0 52-1 1-27 0-1-1 0-42-15 4-5 0-5-2-10-9 0 49-1 1-21 0-1-1 0-73-35 0 1 5-1 3 0 65-1 1-28 0 0 57-1 1-42 0 0 86 6 0 1 1 0 34 13 0 1 1 0 56 6 0 1 1 0 24 7 0 1 1 0 22 6 0 1 1 0 89-1 1-6 0 0 36 22 1 4 2 1 2 29 0 2-1 8-1 10 1 3 1 72 0 0-2 2-1 8-1 13 0 15 0 4 1 1 3zM1485 615l3-2 2-2 0-17-7 0-1-1 0-50-13 0 0 72z"/>
<path fill="#7ca2f0" d="M1924 635l-1-2 1-1 5-1 16-1 14 0 0-387-5 0-3-1-6-8-2-1-10-3-27-9-5-4-6-5 0 151-1 1-28 0-1-1 0-86 1-1 6 0 0-88-18-18-3-2-3-1-4 3-13 13-16 9 0 26-1 1-27 0-1-1 0-10-16 8-4 1-5-3-10-9 0 13-1 1-21 0-1-1 0-37-15-15-3-2-3 0-5 5-9 15 0 34-1 1-28 0 0 57-1 1-42 0 0 86 6 0 1 1 0 34 13 0 1 1 0 56 6 0 1 1 0 24 7 0 1 1 0 22 6 0 1 1 0 89-1 1-6 0 0 34 18 1 8 1 5 2 0 1-1 2 20 0 0-2 2-1 14-1 16 1 3 1-1 2 65 0-1-3 2-2 10-1 14 1 18 0 4 1 1 1-1 3zM1471 614l9-3 5-3 3-5 2-9-7 0-1-1 0-44-2-6-11 0 0 72z"/>
<path fill="#7092f0" d="M1919 635l-36-1-5-1-3-2 6-1 36 0 27-2 15 1 0-383-13 2-9 10-4 2-10 0-3 0-12 11-3 1-2-1-3-6-5-15 0 50 6-14 3-3 2 0 5 6 14 24 3 7 0 6-3 5-6 10-4 5-3 2-4 2-7-1-3-2-3-4 0 20-1 1-28 0-1-1 0-86 1-1 6 0 0-52-14-7-14-12-2-1-3 1-18 10-6 5-2 4-2 12-4 8-7 12-8 9-5 2-25-2-8-3-9-7-3-6-5-24-2-6-6 0-1-1 0-7-15-15-3-2-3 0-4 3-6 9-4 3 0 9-1 1-28 0 0 57-1 1-42 0 0 86 6 0 1 1 0 34 13 0 1 1 0 56 6 0 1 1 0 24 7 0 1 1 0 22 6 0 1 1 0 89-1 1-6 0 0 31 39 5 29-2 25 2 24 1 3 0-1 1-6 2-19 0-4 1 57 0-4-3-9-1 0-1 15-2 10-1 15 2 18-1 13 2 2 1-6 1-3 3zM1471 611l4-3 6-5 2-4 1-5-2-1 0-30-7-20-6 0 0 69z"/>
<path fill="#6488ec" d="M1907 628l38-2 14 1 0-378-6 1-3 3-4 12-6 10-1 4 0 13 2 30-1 6-2 8-4 9-13 24-3 4-5 0-20-2-4-3-2-4-21 0-1-1 0-86 1-1 6 0 0-35-20-7-5 0-3 1-4 4-9 15-6 7-28 32-3 3-2 1-17-8-16-5-21-14-8-6-8-7-3-5-10-27-3-4-8-1-34 0 0 56-1 1-42 0 0 86 6 0 1 1 0 34 13 0 1 1 0 56 6 0 1 1 0 24 7 0 1 1 0 22 6 0 1 1 0 89-1 1-6 0 0 29 8 1 34 3 26 0 39 1 51-2 16 1 17-1 26 2zM1470 607l4-5 3-5 3-21-1-6-3-6-3-4-4-4 0 52zM1802 635l-5-1-11 0-10 1zM1877 635l-10-1-6 0-4 1z"/>
<path fill="#547aec" d="M1916 626l30-2 13 1 0-295-6 5-5 7-20 47-4 6-3 2-4-1-13-5-10-2-7-4-4-3-2-3-5-15-10 0-1-1 0-86 1-1 1 0-2-13-1-2-3-1-6 3-9 8-16 18-5 6-1 6 2 18 0 5-3 6-10 14-5 6-5 3-16 7-5 1-3-3-2-5-13-42-3-5-2-3-23-16-16-16-15-13-6-8-5-14-2-4-4-2-5 0-13 0-5 1-1 0 0 45-1 1-42 0 0 86 6 0 1 1 0 34 13 0 1 1 0 56 6 0 1 1 0 24 7 0 1 1 0 22 6 0 1 1 0 89-1 1-6 0 0 25 4 2 6 1 30 4 28-1 38 1 50-2 18 2 19-1 35 1z"/>
<path fill="#4870ea" d="M1914 624l38-2 7-1 0-242-7 1-3 3-10 27-4 7-9 9-3 1-4-1-20-10-8-7-7-10-8-8-3-4-6-23-1 0-1-1 0-7-6-13-2-3-3-2-11 0-5 1-5 5-13 17-10 16-4 5-18 11-3 2-3 0-4-4-4-9-6-19-11-37-4-8-20-17-16-18-11-9-9-12-11-11-8-9-4-2-5 1-5 5 0 30-1 1-36 0-1 2-2 7-3 33 0 16 2 28 4 0 1 1 0 24 2 10 11 0 1 1 0 56 6 0 1 1 0 24 7 0 1 1 0 22 6 0 1 1 0 89-1 1-6 0 0 17 1 2 4 4 6 3 27 3 31 0 38 2 48-3 19 2 20-1 32 1z"/>
<path fill="#3a5ee2" d="M1890 622l52-2 8-1 9-4 0-157-5 2-5 2-14 13-4 2-3-1-3-1-18-15-8-8-25-31-11-26-6-24-3-4-3-1-10 0-3 2-2 2-5 9-17 38-6 9-3 2-5 1-13 0-5-1-2-2-3-5-6-15-24-71-4-10-5-6-28-27-6-8-9-14-5-5-10-9-5-3-4-1-4 2-3 2 0 20-1 1-26 0-8 7-2 10-2 31 1 36 0 2 1 0 1 1 0 11 6 23 7 0 1 1 0 31 3 25 3 0 1 1 0 13 3 11 4 0 1 1 0 13 3 9 3 0 1 1 0 89-1 1-6 0 0 8 4 7 4 5 5 3 8 2 14 2 34 0 39 2 41-2 25 1 21-1z"/>
<path fill="#2c48dc" d="M1776 620l16-1 39 0 45 1 17-2 10 1 10-2 13 1 12 0 7-1 6-3 8-2 0-91-6-1-8-4-12-1-6-2-18-7-11-6-10-8-4-4-2-5-7-19-3-4-3-2-20-2-6-2-9-6-19 8-19 1-7-1-5-1-11-4-4-3-2-2 0-3 0-13-1-6-36-97-5-6-18-20-17-27-11-9-4-1-3 0-8 4 0 8-1 1-10 0-13 10-5 5-3 9-2 24 0 33 1 9 5 19 2 12 3 0 1 1 0 13 5 18 3 27 14 42 1 6-1 26 0 62-1 1-3 0 1 3 3 7 5 7 6 4 8 2 8 1 14-1 14 2 34 0 13 1z"/>
<path fill="#1e32d6" d="M1873 617l18-4 12 2 8-3 4-1 17 3 9 0 2-1 2-2 3-15 2-4 2 2 3 12 1 2 3 0 0-79-4 1-4 6-3 2-11 1-8-1-48-20-15-7-20-8-7-4-10-8-4-2-6-1-26 0-6-1-8-3-16-10-5-7-4-11 0-6 2-18-2-7-4-11-10-18-14-40-9-31-14-19-12-20-4-5-4-4-5-2-5 1-4 1-9 7-7 7-12 20-2 13-2 37 0 5 4 15 2 18 8 29 3 29 12 36 3 10-2 72 1 21 3 7 4 5 4 4 4 2 6 1 18-2 17 3 12 1 15-2 17 3 51-1 12-2 16 2z"/>
<path fill="#101cd0" d="M1863 614l9-2 16-5 4 0 10 2 12-6 11-1 4-2 7-5 4-6 3-10 0-4-1-3-4-3-63-30-16-12-6-3-37-11-13 0-15 1-4-1-18-7-5-3-4-7-7-23-5-15-1-5 0-14-1-5-16-27-4-9-6-36-9-36-10-16-8-14-4-5-3-2-4-1-5 0-4 2-6 4-6 7-8 19-1 8-3 35 1 13 1 21 7 29 3 29 11 30 5 18 1 74 2 19 2 6 4 5 5 3 5 0 17-1 13 3 6 1 6 0 14-2 20 4 46-1 5-1 8-2 4-1 17 4zM1959 586l0-19-2 2 0 3 1 10z"/>
<path fill="#0004c8" d="M1821 607l10-2 20 2 10-3 11-5 11-8 9-8 2-3 0-2-2-2-4-3-22-12-15-16-8-5-22-8-8-1-9 1-14 5-5 0-19-9-7-6-3-5-3-6-8-30-10-21-3-13-9-17-6-18-4-15-5-36-8-36-10-17-5-5-5-2-9 3-4 3-4 4-2 6-3 8-4 37 0 23 1 7 6 25 4 39 7 22 7 25 3 41 1 33 1 10 3 10 3 3 5 2 18 1 18 4 16-1 17 2 11-3 8 0 17 0 15 2z"/>
<path fill="#2114ca" d="M1751 598l8-3 4-3 2-3 2-6 1-9-5-25-3-7-8-12-3-6-8-29-3-8-5-9-8-12-11-25-3-11-7-31-4-33-8-40-2-5-4-5-3-2-4 1-7 3-3 3-1 3-2 8-3 32 1 15 5 16 2 7 1 49 1 7 14 43 5 23 2 5 9 11 3 6 1 7 0 20 2 5 4 4 6 5 13 8 10 3zM1832 584l5-4 0-2 0-2-2-3-5-3-3-2-3 1-2 2-1 3 1 5 5 5 3 1z"/>
<path fill="#422ace" d="M1694 473l9-9 1-3 1-4-12-45-1-30-2-17-5-21-1-3-2-1-3 4-3 8-2 9 0 6 7 33 1 56 2 7 4 8 3 2zM1751 583l4-3 0-5-6-30-13-28-4-14-3-3-10-9-8-16-3-2-2 3-1 12-1 11 1 6 10 16 13 17 13 39 2 3 3 3 3 0z"/>
</g>
<defs>
<clipPath id="cb0"><rect x="124.8" y="948.75" width="510.7" height="512.05"/></clipPath>
<clipPath id="cb1"><rect x="795.6" y="948.75" width="510.7" height="512.05"/></clipPath>
<clipPath id="cb2"><rect x="1466.8" y="948.75" width="510.7" height="512.05"/></clipPath>
</defs>
<g clip-path="url(#cb0)" fill-rule="evenodd">
<path fill="#ead2a4" d="M295 1436l-12 0-8-1-9-3-10-5-11-2-6-5-10-20-3-4-4-3-10-2-7-3-5-4-7-7-10-16-10-23-6-11-7-22-9-38 0-22 1-12 4-12 3-3 4-3 8 0 4-3 61-60 4-6 4-14 7-17 0-9-1-15-6-22-10-29-5-29-3-27 0-28 1-7 2-5 141 0 2 6 4 36 4 14 2 4 4 4 4 1 3-2 8-7 3-1 2 0 3 2 9 11 5 4 3 1 8-1 13-3 15-7 15-11 21-20 5-2 6-2 40 3 21 0 41-2 10 4 14 10 5 2 0 163-4-1-4-5-16-44-2-4-2-1-2 0-2 1-11 10-3 1-6 0-4 1-10 5-11 8-12 12-18 23-34 55-11 15-23 37-36 56-27 37-13 17-30 33-7 6-12 8-8 5-12 5zM640 1466l-39 0 2-18 4-11 11-9 10-12 5-4 6-3 1 0z"/>
<path fill="#e0b880" d="M303 1407l-9-1-9-2-10-6-16-12-12-4-5-4-10-16-6-7-3-1-9-2-6-2-6-4-7-5-15-15-7-14-4-6-4-14-2-17 0-12 1-14 2-17 2-6 9-8 24-25 25-23 20-17 3-4 4-10 1-3 20-18 7-8 2-4 3-17-1-17-4-19-11-42-4-20 1-6 2-8 4-15 3-9 3-2 5 0 16 0 4 1 1 3 1 18 3 15 5 19 3 2 6-1 2 2 6 18 6 12 9 11 4 2 4 2 3-1 8-3 13 1 11-1 11-5 16-10 8-4 32-9 12-7 8-6 28-25 8-4 6 0 35 1 19 0 18-1 16-2 6 0 5 1 5 2 14 10 4 1 0 128-4-1-3-4-13-28-4-6-3-2-4 1-13 11-16 8-16 12-16 16-18 22-14 21-17 27-19 27-18 30-18 26-36 50-28 35-12 13-9 9-8 6-11 6-6 3-13 3z"/>
<path fill="#f0c046" d="M323 1386l-6 0-5-1-22-9-11-6-20-14-12-4-5-4-12-15-5-3-11-3-9-5-10-8-13-13-5-11-2-7 0-15 2-17 4-12 3-7 8-13 11-14 10-11 11-9 46-34 12-5 13-8 18-7 17-9 18-13 28-16 55-41 44-29 29-23 10-6 5-2 15-2 45-2 23-5 8 0 5 1 5 2 5 4 9 8 4 3 2 0 0 83-5-1-6-3-5-3-7-7-3-1-2 0-4 2-12 11-22 14-15 13-16 17-16 20-16 24-17 28-19 25-18 29-15 23-30 40-25 32-13 14-16 13-15 7-11 4z"/>
<path fill="#ffe100" d="M338 1366l-18 0-12-2-7-5-18-9-25-18-12-5-17-14-4-3-9-3-5-2-5-4-7-7-4-6-1-5-2-17 1-12 2-9 5-12 11-18 10-13 16-14 41-30 13-8 44-23 41-24 37-29 42-30 20-13 34-20 19-9 10-3 10-3 35-5 22-6 7 1 5 2 5 7 11 21 3 2 4 1 0 50-8-1-4-2-8-7-2-1-3 1-5 3-15 13-23 15-15 14-17 18-20 26-31 49-21 29-23 36-25 35-25 31-13 14-14 13-15 7z"/>
<path fill="#ffc400" d="M343 1349l-12 1-9-1-25-9-30-22-14-7-8-6-20-14-4-4-5-7-2-7-1-10 0-10 2-9 5-10 4-8 7-10 15-16 19-15 32-23 79-49 42-37 39-28 20-13 40-23 27-11 14-4 27-4 19-6 6 0 5 3 3 3 2 5 8 20 3 6 3 3 6 1 0 27-3-1-11-4-6 1-6 1-21 17-20 14-16 14-17 18-17 21-10 14-29 46-21 30-17 27-23 31-22 27-13 15-17 13-13 6-8 3z"/>
<path fill="#ffa800" d="M353 1333l-22 0-15-2-7-2-19-13-30-21-10-5-6-5-4-5-5-12-1-8-1-7 1-6 3-8 10-15 10-12 16-15 103-74 32-31 13-12 18-14 32-23 47-28 26-12 15-4 28-4 17-6 5 0 4 2 3 4 3 6 3 9 5 19 5 8-1 1-18 9-34 25-20 17-12 12-17 19-20 26-31 49-22 32-15 24-11 15-19 24-17 19-13 12-14 8z"/>
<path fill="#ff8a08" d="M352 1321l-14 0-13-2-9-2-14-6-7-4-9-9-13-9-14-15-3-4-3-8-1-5 0-6 1-6 3-7 10-14 15-15 96-79 24-25 23-22 25-20 23-16 47-29 12-6 14-7 14-3 29-5 16-5 4 0 4 1 4 7 4 13 3 18-1 4-1 2-12 7-38 28-21 19-15 17-19 23-11 16-31 49-21 29-14 23-9 13-12 15-12 13-16 15-12 9-13 6z"/>
<path fill="#ff7204" d="M352 1309l-10 0-11-1-19-5-5-3-3-5-2-2-20-14-10-17-2-8 0-5 1-6 9-13 8-9 29-26 51-48 14-14 21-25 21-20 27-22 21-15 13-9 37-22 10-6 14-6 15-4 27-4 16-5 4 0 3 2 4 6 3 11 1 13 0 4-2 3-16 9-27 20-18 16-19 21-25 30-11 16-32 50-18 25-18 28-10 14-11 12-12 12-16 12-16 7z"/>
<path fill="#ff5a00" d="M361 1293l-17 0-11-1-8-2-14-8-15-13-3-4-4-6-1-4 0-4 3-11 6-9 8-9 19-18 46-50 38-45 21-20 35-28 36-24 31-19 14-7 17-4 27-3 14-5 3 0 3 1 3 5 3 8 1 12-1 6-3 2-8 3-11 7-21 16-18 16-24 26-33 43-50 76-7 8-13 20-12 15-15 14-13 8-9 4z"/>
<path fill="#fa4404" d="M370 1278l-15 0-20-2-11-2-5-4-12-14-1-4 0-6 3-6 6-9 17-18 61-79 15-18 24-24 34-27 34-24 34-21 13-6 13-3 29-3 14-4 3 1 1 1 2 3 2 6 1 9-1 4-1 1-20 11-14 11-24 21-25 27-25 31-17 23-11 15-21 34-30 42-9 11-7 6-12 9-15 6z"/>
<path fill="#e83a10" d="M376 1267l-6 1-8-1-7-2-7-3-6-4-6-5-2-4 0-4 11-24 18-27 13-29 20-28 16-19 23-23 29-24 40-28 31-19 12-6 15-4 35-1 5 2 2 3 2 4 0 3-1 2-20 13-28 23-9 9-24 25-24 30-20 26-46 66-8 8-15 19-6 6-12 9-5 2z"/>
<path fill="#da3018" d="M376 1256l-5 0-4 0-4-2-3-3-2-11 2-13 14-27 2-17 5-16 20-29 16-19 21-21 27-23 61-42 9-5 12-6 15-4 19 1 11 2 4 2 1 2 0 2-47 39-36 38-38 48-36 50-29 32-8 9-12 8-5 2z"/>
<path fill="#c82820" d="M386 1240l-6 0-4-1-2-3-1-4 0-5 2-9 6-17-2-13 1-6 4-11 4-6 19-27 13-16 21-21 26-22 67-47 12-6 13-3 17 1 4 1 3 2 2 2-1 2-3 5-35 31-35 36-37 45-35 48-7 7-12 15-22 18-5 2z"/>
<path fill="#b82024" d="M392 1228l-3-1-3-1-3-7 0-6 4-12 0-3-4-8 0-6 4-9 5-8 21-29 12-15 19-20 26-22 70-48 8-4 9-2 11 2 7 2 1 3-4 5-29 25-36 37-31 36-24 30-18 25-7 8-11 11-13 11-7 4z"/>
<path fill="#c4383c" d="M396 1204l-2 1-1-1-2-5-4-9 0-5 5-8 22-29 13-21 8-9 24-23 19-15 21-14 25-13 13-8 9-7 3-1-1 2-14 13-23 30-70 78-40 40z"/>
<path fill="#d45458" d="M398 1188l-1-2 3-5 13-19 18-32 7-9 12-12 19-16 10-7 12-7 6-3 4-1 1 2-1 2-15 22-14 14-38 42-30 27z"/>
<path fill="#e27878" d="M431 1151l-2 0-1-1 2-8 6-10 6-7 11-12 14-11 11-7 3-2 2 1-1 2-3 4-26 29z"/>
<path fill="#b0e0e6" d="M640 976l0-28-4 1-2 1-1 2 0 11 3 10 2 3zM128 1198l11-4 16-7 6 0 12 3 3 0 5-4 5-4 6-7 11-16 6-15 1-8-1-14-3-8-6-11-20-26-6-20-6-8-6-24-3-5-3-3-3-1-8 5-3 1-12-7-10-1 0 185zM550 1364l27-16 5-2 10-2 5-4 10-12 11-19 8-19 2-7 0-12-2-17-13-64-3-10-1-1-2 0-8 14-3 2-3-1-3-3-2-5-10-30-4-5-4-2-3 1-2 2-7 13-26 69-11 27-2 11-1 14 1 12 2 16 7 30 5 11 3 4 10 5zM164 1466l0-22 1-12-1-26-3-28-6-27-9-30-6-14-5-7-4-4-5-2-6 0 0 172z"/>
<path fill="#a4d6e6" d="M132 1182l14-4 17-8 4 0 10 3 3 0 3-2 5-5 8-12 4-12 1-10-2-10-3-7-7-10-18-22-5-10-8-21-5-8-3-3-20-6-10-2 0 150zM136 1466l0-7 6-43 1-16 0-18-1-16-5-23-5-15-2-4-3-4-3-2-4 0 0 148z"/>
<path fill="#98ccea" d="M135 1170l6-1 6-3 11-7 4-2 4 1 8 5 3 0 2-1 5-7 5-10 2-7 0-7-2-11-4-8-21-24-16-26-4-6-6-6-5-4-6-3-7 0 0 128z"/>
<path fill="#8cbaee" d="M123 1162l13-2 8-3 4-2 8-8 3-1 4 0 9 7 2 0 2-2 2-5 1-7-1-8-4-10-21-31-16-29-4-5-4-4-4-2-5 0 0 112z"/>
<path fill="#7ca2f0" d="M130 1152l5-2 4-2 4-4 3-4 4-12 1-13-5-15-14-33-2-4-3-2-7-2 0 93z"/>
<path fill="#7092f0" d="M125 1147l9-3 6-6 3-8 1-12-1-6-13-33-4-7-3-1-3-1 0 77z"/>
<path fill="#6488ec" d="M125 1142l6-3 5-5 2-6 1-10-1-6-11-25-3-4-4-1 0 60z"/>
<path fill="#547aec" d="M125 1135l3-2 3-5 1-5 0-5-2-7-4-7-2-2-4-1 0 35z"/>
</g>
<g clip-path="url(#cb1)" fill-rule="evenodd">
<path fill="#ead2a4" d="M1088 1340l-4 0-3-1-12-9-7-15-4-17-2-22 1-66-1-14-6-21-3-6-14-22-37-49-17-29-12-30-8-32-5-29-1-34 358 0 0 12-9 1 0 8 1 4 1 14 5 21 1 1 1 0 0 282-3 1-5 3-3 0-3-2-5-7-8-25-6-24-3-7-2 1-1 2-3 15-2 4-1 0-3-6-5-35-6-10-3-1-9 5-20 16-13 11-20 19-18 22-30 40-6 7-16 12-18 9zM840 1449l-1 1-2-2-4-7-9-30-5-21-2-4-1 0-2 3-7 18-7 16-4 4-5 1 0-262 12-1 6 1 4 1 5 5 6 9 20 41 4 6 2 0 6-5 9-4 14-5 5 0 8 5 8 10 6 11 5 11 5 16-1 6-3 18-30 98-10 12-9 22-3 4-3 1-2-1-4-12-1-2-1 1-3 8-5 24zM1311 1466l-98 0 2-6 8-14 36-45 15-16 2-1 5 2 3-3 5-7 11-24 6-9 4-1 1 0z"/>
<path fill="#e0b880" d="M1094 1319l-3 0-5-1-5-4-6-9-5-14-3-20 0-31 1-10 0-16-1-16-7-27-13-25-18-26-18-24-15-24-13-32-10-39-3-26 0-31 341 0 0 11-10 1 0 9 1 4 1 14 5 22 2 3 1 0 0 246-8 2-2-2-3-6-16-55-4-10-2-2-2 0-4 2-3 4-1 0-6-10-5-4-4 0-13 9-26 21-8 6-17 17-18 22-23 30-11 13-13 13-16 10zM839 1393l-1-1-5-21-15-51-5-24-2-2-2 0-4 6-8 14-2 1-4 1 0-141 14-1 3 1 6 6 9 18 12 28 4 8 4 14 3 20 0 26 2 15-3 25-4 45zM883 1305l-3 1-7-2-3-2-2-2-7-10-4-18 0-18 2-11 5-7 4-5 11-4 8 2 3 3 6 12 4 18-1 13-2 6-2 8-5 10zM1311 1466l-41 0 5-23 4-14 8-8 10-5 6-11 7-4 1 0z"/>
<path fill="#f0c046" d="M1098 1302l-3 0-4-2-3-1-2-2-7-11-4-15-2-21 1-28 0-15-1-13-4-20-2-6-11-25-11-17-21-32-11-18-4-9-9-27-9-35-3-26-1-15 0-20 324 0 0 10-11 1 0 10 2 19 7 28 2 0 0 204-7 0-3-3-5-8-13-41-1-4-4-4-3-2-8 3-10-1-4 0-11 6-17 14-13 10-14 14-13 13-13 15-16 23-15 18-17 17-15 11zM796 1272l-5 0 0-74 4 0 7-2 3 2 4 5 4 14 1 7-1 18-4 21-5 6z"/>
<path fill="#ffe100" d="M1099 1289l-4 0-7-6-7-15-2-18 0-53-4-25-5-17-4-11-11-22-19-30-11-20-11-35-6-27-2-9-3-27 0-30 308 0 0 9-12 1 0 12 1 3 1 15 7 28 2 4 1 0 0 167-6-3-6-4-13-38-7-10-2-1-2 0-36 25-33 26-15 15-19 22-18 24-16 19-13 14-7 6-10 7z"/>
<path fill="#ffc400" d="M1102 1279l-4 0-4-3-6-7-2-7-2-14-1-52-4-26-6-23-10-24-13-24-14-28-8-29-7-31-2-12-3-35 0-20 295 0 0 8-13 1 0 13 1 3 1 15 7 28 3 6 1 0 0 141-3-1-5-5-21-35-3-3-5 2-43 33-19 14-11 9-22 24-30 38-15 18-19 18-8 6z"/>
<path fill="#ffa800" d="M1105 1269l-3 1-2-1-5-4-5-16-2-13 0-26-1-16-3-24-5-25-9-23-11-24-11-26-9-33-7-32-2-24-1-39 282 0 0 7-14 1 0 14 1 3 1 15 7 29 4 7 1 0 0 123-3-1-11-12-8-17-2-4-6-5-2 0-3 2-27 23-21 16-19 13-12 10-17 18-27 34-25 29-16 16z"/>
<path fill="#ff8a08" d="M1106 1258l-3 0-2-2-6-13-2-15-1-19-3-33-4-31-7-23-10-26-8-24-6-26-6-39-1-13-1-14-1-36 266 0 0 6-15 1 0 15 1 3 1 16 2 10 6 21 3 6 2 0 0 105-3-1-4-2-10-17-6-6-4-2-3-1-6 3-29 24-20 15-18 12-17 15-15 15-29 36-24 28-8 7z"/>
<path fill="#ff7204" d="M1109 1248l-2 0-2-2-4-5-1-4-4-19-2-43-4-32-4-22-7-24-8-34-4-29-4-42-1-15 0-33 249 0 0 5-16 1 0 17 1 2 0 8 1 2 0 6 2 10 6 21 4 7 2 0 0 91-4-2-13-14-3-3-10-2-7 4-31 25-37 25-19 16-15 16-20 25-26 30-11 11-3 2z"/>
<path fill="#ff5a00" d="M1112 1234l-3-1-3-4-6-17-3-30-3-56-3-32 1-68-1-51 1-31 219 0 0 4-17 1 0 18 1 3 0 7 1 2 0 6 2 10 7 22 3 7 3 0 0 78-4-2-11-8-5-2-7-1-3 0-9 5-31 23-32 21-14 11-12 11-15 15-38 46-9 9z"/>
<path fill="#fa4404" d="M1117 1224l-4 0-3-2-5-10-1-7-2-12-2-14 0-42 1-16 3-24 6-27 8-39 3-36 2-51 188 0 0 3-18 1 0 19 1 3 1 16 2 10 6 21 4 8 4 0 0 68-3-1-13-6-10-1-4 0-10 6-17 12-45 27-18 15-21 20-42 50-8 7z"/>
<path fill="#e83a10" d="M1121 1212l-3 1-2-1-5-4-2-5-3-12-2-15 1-38 3-24 4-15 19-56 4-19 5-26 2-21 1-33 168 0 0 2-19 1 0 21 1 2 0 8 1 2 0 6 1 2 1 8 6 21 5 8 1 1 3 0 0 60-15-5-10-1-4 1-12 6-18 12-42 25-23 18-22 23-35 40-5 5z"/>
<path fill="#da3018" d="M1122 1204l-4-1-4-2-5-14-2-23 1-13 1-12 5-23 5-14 6-15 24-49 9-29 5-29 2-36 146 0 0 1-20 1 0 23 1 1 0 9 1 1 0 7 1 1 1 9 1 1 0 3 1 1 1 6 2 4 1 6 4 8 2 1 4 0 0 53-13-4-14 0-15 8-47 29-14 9-19 15-16 16-32 36-12 11z"/>
<path fill="#c82820" d="M1128 1197l-3 0-5-2-4-5-2-5-4-20 1-13 2-9 4-15 10-21 13-21 19-27 27-29 13-11 20-13 18-9 15-5 20-3 10 2 8 3 4 3 2 1 0 3 2 4 0 3 2 4 1 6 4 8 2 2 1 0 2 5 1 0 0 26-1 0-6 8-4 3-6 2-8 0-3 1-8 5-29 16-38 27-20 15-17 17-31 35-6 6z"/>
<path fill="#b82024" d="M1132 1193l-4 0-4-3-3-3-3-5-3-16 2-19 5-16 10-20 13-21 19-27 26-27 12-10 21-13 15-7 17-6 17-3 6 1 11 5 4 5 3 6 7 24 1 9 0 6-2 5-3 5-3 2-3 2-3 0-5-1-3 1-12 10-24 12-12 8-17 16-29 22-17 17-31 35z"/>
<path fill="#c4383c" d="M1133 1191l-3 0-4-3-4-4-1-4-3-15 2-17 5-17 9-18 12-19 20-28 10-11 19-19 15-12 19-11 14-7 19-5 12-1 9 3 4 2 4 6 2 4 7 24 1 9 0 5-1 3-3 4-5 4-8-1-3 1-13 11-25 12-11 8-17 18-28 22-17 17-31 35z"/>
<path fill="#d45458" d="M1135 1189l-3 0-3-2-4-3-2-4-3-14 2-17 5-17 8-17 14-21 19-27 10-11 18-18 15-12 18-10 14-7 19-5 12-1 9 2 3 2 6 9 6 23 1 13-1 3-3 4-2 2-2 1-7-2-3 1-5 4-10 9-24 11-12 9-17 19-25 20-15 15-34 38z"/>
<path fill="#e27878" d="M1136 1187l-3 0-4-2-3-3-1-4-2-10-1-6 2-12 2-7 3-11 9-17 13-20 19-27 9-10 18-18 15-12 17-10 14-7 19-5 12-1 10 4 6 8 6 22 1 12-1 3-2 3-3 2-7-1-4 1-5 4-10 9-24 11-12 9-5 5-17 19-20 17-18 17z"/>
<path fill="#f29c9c" d="M1136 1183l-3 0-3-4-3-14 1-13 4-14 9-19 7-12 26-37 9-10 16-16 15-12 17-10 14-7 18-5 10-1 9 3 4 6 5 18 2 13-1 3-1 2-2 0-6 0-5 1-5 4-10 9-24 11-12 9-7 7-19 23-15 12-16 16z"/>
<path fill="#b0e0e6" d="M987 1440l19-7 6-10 2-8 4-23 2-21 3-67 6-39 4-18 5-20 2-16 1-11-3-17-12-18-23-20-24-24-18-25-13-24-9-32-7-31-3-28-2-37-136 0 0 195 5 0 4 1 6 3 5 4 32 45 3 3 6 5 4 1 17-6 12-2 4 0 3 1 38 21 16 11 19 15 13 16 3 8 1 8-5 16-9 23-6 21-4 17 0 10 2 12 5 24 11 33 2 5 4 6 2 1zM1311 998l0-40-6 0-1 7 2 18 3 14 1 1z"/>
<path fill="#a4d6e6" d="M1005 1227l12-6 9-12 3-15-2-10-3-7-4-4-37-28-8-8-15-17-17-28-10-23-8-31-5-26-4-36-1-32-124 0 0 188 4 0 7-2 10 0 4 2 6 5 4 4 10 14 11 22 7 6 3 2 3 0 17-5 11-2 7 0 16 6 74 37 16 5zM1311 993l0-34-5 0-1 5 2 19 3 11 1 0z"/>
<path fill="#98ccea" d="M1011 1203l6-5 3-4 1-8-2-6-9-8-26-17-17-12-22-24-14-23-3-6-8-20-9-33-5-35-3-33-1-25-111 0 0 171 20 0 11 5 9 7 4 4 6 10 9 20 10 9 4 0 34-5 18 3 20 7 55 26 14 2zM1311 988l0-28-4 0-1 4 2 18 2 6 1 0z"/>
<path fill="#8cbaee" d="M946 1163l6-2 1-2 0-9-2-5-20-38-26-43-8-24-8-36-3-30-1-30-94 0 0 158 6-1 7-1 3 0 9 3 12 6 7 7 3 4 5 14 10 19 3 3 8 4 4 1 16-2 18-1 38 6zM1311 983l0-22-3 0-1 3 2 18 1 1 1 0z"/>
<path fill="#7ca2f0" d="M877 1154l8-1 20-1 17 1 2-1 3-3 1-5-3-16-9-22-21-40-8-19-9-24-5-30-2-31 0-18-64 0-3 41-6 47-3 15-1 2-3 1 0 41 10 0 9 2 7 3 9 5 7 7 5 7 9 23 7 10 5 4 7 2zM1311 975l0-13-2 0 0 12 1 1z"/>
<path fill="#7092f0" d="M832 1018l5-9 1-8 3-38 0-19-17 0-1 36 4 27 4 10 1 1zM873 1150l20-2 15-3 2-1 1-2 2-9-12-36-7-14-4-5-11-11-8-5-4-1-4 2-9 6-12 12-2 5-2 11 6 24 7 18 5 6 5 3z"/>
<path fill="#6488ec" d="M881 1143l8-2 9-5 2-6 0-10-5-18-7-15-10-11-2-1-3 0-10 3-11 10-2 4-3 7 0 7 3 18 7 14 4 2 8 3z"/>
<path fill="#547aec" d="M874 1135l8-2 3-2 2-4 2-7-5-18-7-10-3-2-7 2-4 2-7 12-1 5 2 8 5 9 6 5z"/>
</g>
<g clip-path="url(#cb2)" fill-rule="evenodd">
<path fill="#ead2a4" d="M1982 1466l-200 0 8-66-2-7-5-9-3-4-5-2-5 1-9 3-33 19-18 8-12 3-5 1-4-2-6-5-5-10-2-8-2-22 3-25 5-27 6-24 8-26 9-22 4-16 2-21-3-19-6-13-10-16-11-16-11-13-31-30-23-19-36-33-18-19-9-15-5-18-3-30 0-20 437 0z"/>
<path fill="#e0b880" d="M1982 1466l-132 0 1-38 4-38 0-27-3-23-5-16-1-3-4-4-6-4-9-1-5 1-17 7-20 16-21 19-15 12-20 12-11 6-9 4-9 1-5-1-4-5-4-6-2-16 1-27 3-23 7-26 5-20 9-22 6-19 2-21-1-8-3-12-6-15-10-16-10-15-14-16-31-30-35-31-25-23-8-8-5-7-7-12-5-20-3-31 0-16 427 0z"/>
<path fill="#f0c046" d="M1982 1466l-39 0-3-43 0-41-1-23-3-41-5-28-6-23-3-5-4-4-4 0-21 4-17 0-6 0-15 4-14 7-24 15-55 54-21 17-17 10-14 5-6 0-5-3-3-5-2-11-1-19 1-10 3-20 5-24 6-19 9-23 6-21 2-22-5-18-7-16-7-14-10-14-15-18-25-25-58-51-13-14-9-12-3-7-5-19-2-19-1-26 417 0z"/>
<path fill="#ffe100" d="M1982 1466l-29 0-3-97-4-65-5-38-5-28-5-18-1-3-2-1-2-1-2 1-9 7-10 6-37 11-19 11-22 16-14 13-42 41-14 13-18 14-7 4-12 6-9 0-3-1-2-2-4-7-1-14 1-27 5-22 4-17 13-35 4-15 3-23-3-23-1-3-5-6-7-14-9-13-12-17-10-11-29-28-41-37-18-18-5-6-8-12-4-16-3-22-1-25 407 0z"/>
<path fill="#ffc400" d="M1982 1466l-21 0-3-94-5-71-9-64-4-21-2-5-2-4-4-5-3-3-3 0-3 1-14 10-9 6-19 6-17 8-20 13-21 17-54 53-24 19-12 7-8 3-8 1-4-4-4-7-2-11 1-21 4-19 5-18 10-28 5-19 3-25-2-23-5-9-6-14-26-35-23-23-55-51-18-19-8-14-3-13-2-16-1-30 396 0z"/>
<path fill="#ffa800" d="M1982 1466l-10 0-1-25-1-30-10-112-14-88-6-21-3-6-4-3-4 0-21 17-11 5-22 10-19 11-19 14-14 13-44 43-18 16-17 13-11 5-7 2-7-2-4-5-3-6 0-13 1-9 3-16 5-18 9-25 5-16 2-9 2-18-1-25-6-22-2-5-8-9-8-11-14-17-23-24-53-49-15-18-7-13-3-7-2-20-1-29 386 0z"/>
<path fill="#ff8a08" d="M1982 1371l-2-1-4-5-3-4-1-6-7-59-10-68-4-22-6-23-5-10-2-3-2-1-3 1-4 2-14 12-9 6-33 16-17 10-12 8-16 13-53 52-22 18-13 8-6 2-7 0-5-3-2-4-2-6-1-8 1-7 3-15 4-16 8-22 6-17 4-25-1-26-6-26-2-5-11-17-17-21-17-17-51-49-14-14-6-8-6-11-3-9-2-21 0-26 375 0z"/>
<path fill="#ff7204" d="M1982 1350l-1 0-1-4-15-98-5-30-6-30-9-27-2-3-4-2-3 0-2 1-12 13-11 10-9 5-29 13-14 8-18 13-17 14-37 37-14 12-20 16-7 4-10 4-5-1-4-2-2-4-2-7 2-16 5-21 12-37 4-24 0-25-2-13-3-17-11-23-9-9-10-13-16-17-51-49-16-19-6-11-2-8-2-22-1-24 365 0z"/>
<path fill="#ff5a00" d="M1745 1293l-7 1-4-3-3-5-1-8 1-10 2-9 14-45 3-20 0-12 0-17-5-29-10-23-19-23-11-13-54-53-6-7-7-11-4-8-3-11-1-10-1-33 353 0 0 292-2-1-4-3-3-5-3-6-9-39-8-26-3-5-4-4-3-1-3 0-4 2-3 2-13 16-10 8-8 5-20 9-14 7-12 7-13 9-21 17-35 35-14 12-14 11z"/>
<path fill="#fa4404" d="M1748 1283l-5 0-4-3-2-4-1-7 3-17 11-40 4-25 0-25-3-21-2-7-9-23-19-26-10-12-45-45-14-18-6-12-3-10-1-13-1-31 341 0 0 271-1 0-2-3-9-30-11-31-9-15-3-2-4 1-5 3-13 17-10 11-13 8-19 8-19 10-16 10-28 23-34 32-13 12-15 10z"/>
<path fill="#e83a10" d="M1756 1271l-5 0-4-1-3-5-1-6 2-16 9-34 3-25 0-23-4-27-9-24-24-37-6-8-39-41-13-19-4-11-2-15-1-35 327 0 0 222-4-2-4-4-12-21-6-9-5-3-6 1-7 5-14 19-11 11-9 5-34 16-20 12-24 19-45 41-12 9z"/>
<path fill="#da3018" d="M1763 1261l-6 1-4-2-3-3-1-5 0-11 7-33 4-27 0-21-4-27-8-23-24-43-4-5-17-19-19-25-7-12-4-10-3-20 0-32 312 0 0 206-1 0-3-2-11-17-9-9-5-3-7 2-6 5-18 25-8 7-9 6-36 16-20 12-17 13-48 43-14 10z"/>
<path fill="#c82820" d="M1768 1251l-5 1-4-2-3-4-1-5 1-15 4-30 2-19 0-18-3-25-7-22-7-16-18-33-17-24-5-14-11-21-3-11-3-14-1-35 295 0 0 189-4-2-11-10-9-7-5-1-6 2-7 6-15 22-10 10-10 7-22 9-17 9-18 10-19 15-45 40-7 4z"/>
<path fill="#b82024" d="M1769 1243l-4-1-3-3-2-3-1-7 0-7 5-48 0-15-3-25-6-23-10-24-26-49 0-3 2-7 0-3-10-22-2-12-2-16-1-31 199 0 1 9 2 6 5 6 6 3 26 0 19-2 18-3 0 160-4-2-10-7-9-6-5 0-7 2-3 2-5 7-14 21-10 10-10 6-28 12-23 12-13 8-15 12-38 34-10 6z"/>
<path fill="#c4383c" d="M1775 1233l-4 0-3-1-2-3-2-5 0-15 2-44-1-31-7-32-20-63-5-29-4-33 0-33 165 0 1 13 4 9 6 6 9 4 8 2 15 0 45-4 0 142-3-1-10-7-10-5-5 0-7 2-3 2-3 4-16 24-11 11-14 8-27 11-20 10-15 10-16 12-34 29-6 4z"/>
<path fill="#d45458" d="M1777 1223l-3-1-3-2-2-6-1-6 0-15 1-27 0-34-2-36-9-100-1-22-1-30 123 0 2 17 5 12 5 4 12 5 10 2 21 0 48-4 0 131-3-1-11-7-9-4-5 0-8 2-5 5-17 25-12 11-16 9-24 10-21 10-14 9-16 12-26 22-11 7z"/>
<path fill="#e27878" d="M1781 1214l-4-1-3-3-1-3-1-6 1-75 1-22 4-30 9-35 4-31-2-64 70 0 2 19 5 14 2 4 6 5 8 3 22 2 58-3 20-2 0 120-3-1-10-6-10-4-6 0-8 3-6 5-17 25-11 10-16 9-27 11-17 9-14 8-13 10-30 23-7 4z"/>
<path fill="#f29c9c" d="M1784 1205l-3-1-2-2-1-10 1-63 3-20 5-25 5-18 8-21 12-19 13-12 8-6 10-5 12-3 11-1 37 0 45-3 20-1 14-2 0 105-14-7-9-3-6 0-11 4-7 7-17 24-9 9-16 9-41 18-20 13-39 29-5 3z"/>
<path fill="#b0e0e6" d="M1634 1466l12-56 9-55 6-29 12-37 21-54 6-30-1-11-2-7-5-11-9-16-10-14-12-13-30-29-41-35-35-32-16-18-9-15-4-14-3-32 0-14-61 0 0 522z"/>
<path fill="#a4d6e6" d="M1625 1466l2-12 10-44 12-58 6-27 14-44 12-28 6-17 6-30 0-6-2-9-5-13-8-13-13-17-12-14-30-29-41-34-35-32-17-18-9-15-4-15-3-32 0-15-52 0 0 522z"/>
<path fill="#98ccea" d="M1614 1466l2-10 17-61 16-73 14-43 12-27 5-15 7-31 0-5-2-7-5-13-8-13-14-18-12-14-26-26-83-71-9-10-16-19-6-11-5-13-4-26 0-16-35 0 0 522z"/>
<path fill="#8cbaee" d="M1518 1463l9-6 13-11 51-29 20-19 8-9 6-14 5-13 8-30 11-35 20-53 5-22 6-14 0-5-3-10-8-15-12-16-19-22-24-25-78-66-11-10-11-13-20-18-11-18-6-16-2-10-2-20-11 0 0 488 8 2 11 4 16 10 7 9 4 3 6 3z"/>
<path fill="#7ca2f0" d="M1519 1443l4-3 13-10 32-16 18-10 23-20 11-14 4-10 7-24 8-27 25-65 4-14 4-23 0-4-2-6-5-10-13-19-23-26-19-19-23-20-49-39-14-14-19-16-18-12-21-10-4-1 0 390 6 2 9 6 34 32 4 2z"/>
<path fill="#7092f0" d="M1519 1427l8-8 31-14 22-12 32-26 4-4 7-26 9-25 21-49 7-18 4-18 1-21-1-4-3-6-11-17-14-18-15-17-16-15-19-16-56-42-14-16-21-13-10-4-6-2-17 1 0 285 1 0 1 2 5 10 8 28 8 19 10 15 9 18 5 9 5 4 2 1z"/>
<path fill="#6488ec" d="M1520 1411l7-2 8-5 17-14 14-15 15-21 16-18 8-9 16-14 5-6 10-16 10-22 7-17 7-22 1-11-1-8-2-7-5-10-8-11-10-13-20-22-12-12-15-12-65-47-13-12-6-3-14-8-5-2-6 0-17 0 0 259 3 1 4 4 4 5 5 9 18 45 13 28 6 7 2 1z"/>
<path fill="#547aec" d="M1524 1399l6-5 8-11 7-16 10-26 12-18 6-4 10-6 17-6 18-5 5-4 7-8 11-21 9-20 5-19 1-11 0-5-2-7-5-9-7-11-10-13-10-12-15-15-21-18-66-44-23-14-13-5-22 1 0 238 4 1 6 5 6 5 3 5 8 12 11 22 16 39 4 5 2 0z"/>
<path fill="#4870ea" d="M1526 1374l4-3 4-6 13-27 6-10 6-8 6-6 8-6 9-5 15-5 19-5 5-3 4-4 9-14 11-23 5-19 1-12 0-5-3-8-3-7-6-10-10-12-10-12-13-13-20-17-12-8-57-35-23-12-6-2-5-1-21 1 0 221 4 0 4 2 13 12 13 17 20 39 6 6 2 0z"/>
<path fill="#3a5ee2" d="M1526 1358l6-7 18-30 13-15 9-6 8-4 34-11 4-3 10-10 10-18 6-16 2-18-1-12-2-8-6-9-19-24-16-16-13-12-7-5-13-8-40-20-16-10-20-9-9-2-22 1 0 203 5 1 7 3 12 13 14 17 19 32 3 3 2 0z"/>
<path fill="#2c48dc" d="M1525 1344l3-2 3-3 15-22 10-13 8-8 7-4 9-4 31-10 7-5 5-5 9-13 7-17 3-17 0-9-1-6-3-6-5-9-18-24-13-14-13-12-16-11-10-5-35-13-21-11-16-6-7-1-22 1 0 186 5 1 7 3 4 3 6 6 12 12 9 11 14 23 3 3z"/>
<path fill="#1e32d6" d="M1525 1332l7-7 20-27 11-11 18-9 19-5 8-3 6-3 5-5 7-9 7-16 4-16 0-9-1-6-6-14-12-17-6-8-12-13-12-12-17-12-7-3-21-7-15-3-16-8-20-6-8-1-22 1 0 169 6 1 8 4 5 3 9 9 15 16 6 9 10 15 2 2z"/>
<path fill="#101cd0" d="M1527 1314l5-5 13-20 12-13 20-12 28-11 8-6 7-7 6-7 5-12 2-9-1-7-13-25-8-12-11-13-13-13-18-12-8-3-20-6-12-1-8-4-12-4-23-1-24 2 0 144 5 1 7 3 7 4 6 4 10 11 22 31 4 3 2 1z"/>
<path fill="#0004c8" d="M1525 1299l12-19 9-11 9-8 16-11 11-5 19-8 13-6 5-4 6-8 3-6 0-5-2-7-4-11-4-9-8-12-11-13-13-13-19-12-26-8-12-2-9-3-10-2-23 3-18 4-7 0 0 118 6 1 10 4 15 11 11 12 17 29 2 1z"/>
<path fill="#2114ca" d="M1526 1275l23-19 15-10 14-7 24-10 11-5 3-3 7-8 1-3 0-4-3-15-8-16-15-18-14-14-14-9-6-3-23-7-12-1-8-3-4-1-8 2-9 6-17 14-15 15-4 3-2 0 0 47 2 0 3 3 17 18 22 31 12 14 4 3z"/>
<path fill="#422ace" d="M1526 1264l7-4 16-11 13-8 14-7 33-13 4-4 6-7 1-4 0-5-1-10-7-15-15-18-14-14-14-9-7-3-22-6-12-1-9-3-5 2-5 5-3 5-5 14-5 27 1 28 0 7 5 20 2 7 5 12 4 7 5 5 4 3z"/>
<path fill="#6444d4" d="M1525 1258l7-3 29-19 13-6 32-13 7-6 2-4 2-5 0-6-2-8-7-14-13-16-16-14-12-8-5-2-23-6-11 0-8-3-3 1-4 5-7 19-4 25 0 27 4 25 6 18 4 7 3 4 3 2z"/>
<path fill="#8460d8" d="M1525 1251l7-3 29-18 10-5 32-13 4-4 3-4 1-3 0-6-1-6-7-13-12-15-15-14-12-7-5-2-22-5-10 0-6-2-2 2-2 3-6 17-4 22 0 25 4 24 5 16 5 9 2 2z"/>
</g>
<g clip-path="url(#cb0)">
<path d="M124.7 1271.0 130.5 1272.5 136.3 1273.7 142.1 1274.6 148.0 1275.4 154.0 1275.8 160.1 1276.1 165.6 1276.8 170.4 1280.9 175.5 1283.6 181.5 1284.1 187.4 1283.9 193.2 1283.0 199.1 1281.8 204.9 1280.4 210.7 1279.1 216.6 1278.1 222.5 1277.2 228.4 1276.4 234.3 1275.6 240.1 1274.9 246.0 1274.0 251.9 1273.2 257.8 1272.4 263.7 1271.5 269.6 1270.6 275.4 1269.6 281.3 1268.6 287.1 1267.3 292.9 1266.0 298.6 1264.5 304.3 1262.8 310.0 1261.0 315.5 1258.9 321.0 1256.6 326.4 1254.1 331.7 1251.4 336.9 1248.5 341.9 1245.3 346.8 1241.9 351.6 1238.3 356.2 1234.7 360.7 1230.8 365.1 1226.8 369.4 1222.7 373.8 1218.6 378.0 1214.4 382.2 1210.2 386.4 1206.0 390.5 1201.7 394.6 1197.4 398.6 1193.0 402.6 1188.6 406.6 1184.2 410.6 1179.8 414.5 1175.4 418.5 1171.0 422.4 1166.5 426.4 1162.1 430.4 1157.7 434.5 1153.3 438.5 1149.0 442.5 1144.6 446.6 1140.3 450.6 1135.9 454.6 1131.5 458.7 1127.2 462.7 1122.8 466.7 1118.4 470.7 1114.1 474.7 1109.7 478.8 1105.3 482.8 1101.0 486.9 1096.6 491.0 1092.3 495.1 1088.0 499.3 1083.8 503.5 1079.6 507.9 1075.6 512.3 1071.6 516.8 1067.7 521.4 1064.0 526.0 1060.3 530.8 1056.7 535.6 1053.1 540.4 1049.7 545.3 1046.4 550.4 1043.2 555.4 1040.1 560.5 1037.1 565.7 1034.2 571.0 1031.4 576.3 1028.7 581.7 1026.2 587.1 1023.9 592.6 1021.5 597.9 1018.7 603.1 1016.0 608.8 1013.9 614.5 1013.6 620.2 1015.8 624.9 1019.5 629.7 1022.6 635.6 1024.0" stroke="#00ff00" stroke-width="5.6" fill="none" stroke-linejoin="round" stroke-linecap="butt"/>
<path d="M124.7 1271.0 130.5 1272.5 136.4 1273.7 142.2 1274.7 148.2 1275.5 154.2 1275.7 160.2 1275.7 165.9 1276.2 170.9 1280.2 176.3 1281.9 182.3 1281.1 188.2 1280.1 194.1 1279.0 199.9 1277.8 205.8 1276.5 211.6 1275.2 217.5 1274.1 223.3 1272.9 229.2 1271.7 235.1 1270.6 240.9 1269.4 246.8 1268.2 252.6 1266.9 258.5 1265.7 264.3 1264.4 270.2 1263.1 276.0 1261.8 281.8 1260.4 287.6 1259.0 293.4 1257.5 299.1 1255.8 304.9 1254.0 310.5 1252.1 316.0 1249.9 321.5 1247.4 326.8 1244.7 332.1 1241.8 337.2 1238.8 342.2 1235.5 347.2 1232.1 352.0 1228.6 356.7 1225.0 361.4 1221.2 365.9 1217.3 370.4 1213.3 374.7 1209.3 379.0 1205.1 383.2 1200.8 387.4 1196.5 391.5 1192.2 395.6 1187.8 399.6 1183.4 403.6 1179.0 407.7 1174.6 411.7 1170.2 415.8 1165.8 419.8 1161.4 423.9 1157.0 427.9 1152.6 432.0 1148.2 436.0 1143.8 440.1 1139.4 444.2 1135.0 448.2 1130.6 452.3 1126.3 456.3 1121.9 460.4 1117.5 464.4 1113.1 468.5 1108.7 472.5 1104.3 476.5 1099.8 480.6 1095.5 484.7 1091.1 488.9 1086.8 493.1 1082.5 497.3 1078.3 501.6 1074.2 506.1 1070.2 510.6 1066.3 515.2 1062.5 519.9 1058.8 524.7 1055.2 529.6 1051.8 534.5 1048.4 539.4 1045.0 544.4 1041.7 549.4 1038.5 554.5 1035.3 559.7 1032.3 564.9 1029.5 570.3 1026.8 575.7 1024.3 581.1 1021.8 586.7 1019.5 592.1 1017.0 597.3 1013.9 602.5 1010.8 608.2 1009.5 614.1 1009.5 619.8 1011.6 624.8 1014.9 629.8 1018.0 635.6 1019.6" stroke="#000" stroke-width="6.0" fill="none" stroke-linejoin="round" stroke-linecap="butt"/>
</g>
<g clip-path="url(#cb1)">
<path d="M795.7 1254.7 801.6 1254.3 807.6 1253.9 813.5 1253.5 819.5 1253.0 825.4 1252.5 831.3 1251.7 837.2 1251.7 843.1 1252.9 848.9 1254.5 854.7 1255.3 860.7 1255.1 866.6 1254.8 872.6 1254.7 878.5 1254.8 884.5 1255.0 890.5 1255.3 896.4 1255.5 902.4 1255.7 908.3 1255.8 914.3 1255.9 920.2 1255.9 926.2 1255.8 932.1 1255.6 938.1 1255.4 944.0 1255.2 950.0 1254.8 955.9 1254.3 961.8 1253.6 967.7 1253.0 973.7 1252.2 979.6 1251.3 985.4 1250.3 991.3 1249.1 997.0 1247.8 1002.8 1246.2 1008.5 1244.5 1014.2 1242.7 1019.8 1240.8 1025.4 1238.7 1031.0 1236.5 1036.5 1234.2 1041.9 1231.7 1047.1 1229.0 1052.3 1226.0 1057.4 1222.8 1062.4 1219.7 1067.4 1216.4 1072.4 1213.1 1077.3 1209.8 1082.1 1206.3 1087.0 1202.8 1091.8 1199.3 1096.5 1195.6 1101.0 1191.8 1105.5 1187.8 1109.8 1183.8 1114.2 1179.7 1118.4 1175.5 1122.6 1171.3 1126.8 1167.0 1130.9 1162.7 1135.0 1158.4 1139.1 1154.1 1143.2 1149.8 1147.3 1145.5 1151.4 1141.1 1155.5 1136.8 1159.5 1132.4 1163.6 1128.0 1167.6 1123.7 1171.6 1119.3 1175.7 1114.9 1179.8 1110.6 1183.9 1106.3 1188.0 1102.0 1192.1 1097.7 1196.3 1093.5 1200.5 1089.3 1204.8 1085.1 1209.1 1081.0 1213.4 1076.9 1217.8 1072.8 1222.3 1068.8 1226.8 1065.0 1231.4 1061.3 1236.2 1057.7 1241.1 1054.3 1246.2 1051.2 1251.5 1048.6 1257.0 1046.1 1262.1 1043.1 1266.7 1039.4 1271.2 1035.3 1275.5 1030.4 1280.4 1029.5 1285.5 1032.9 1289.1 1037.6 1292.8 1042.4 1297.3 1046.5 1302.4 1049.3 1308.2 1050.9" stroke="#00ff00" stroke-width="5.6" fill="none" stroke-linejoin="round" stroke-linecap="butt"/>
<path d="M795.7 1248.4 801.7 1248.4 807.6 1248.4 813.5 1248.3 819.5 1247.7 825.4 1247.2 831.4 1246.7 837.2 1246.9 842.8 1249.1 848.6 1250.8 854.5 1251.5 860.4 1251.3 866.3 1250.8 872.3 1250.6 878.2 1250.7 884.2 1251.1 890.1 1251.5 896.1 1251.9 902.0 1252.6 907.9 1253.2 913.8 1253.6 919.8 1253.8 925.7 1253.9 931.7 1254.0 937.6 1254.0 943.6 1254.0 949.5 1253.8 955.5 1253.3 961.4 1252.7 967.3 1252.1 973.2 1251.4 979.1 1250.6 985.0 1249.6 990.9 1248.6 996.7 1247.3 1002.4 1245.8 1008.1 1244.0 1013.8 1242.2 1019.4 1240.3 1025.0 1238.2 1030.6 1236.0 1036.0 1233.6 1041.4 1231.0 1046.6 1228.2 1051.7 1225.1 1056.7 1221.9 1061.6 1218.5 1066.5 1215.1 1071.2 1211.5 1075.9 1207.9 1080.6 1204.2 1085.3 1200.5 1089.9 1196.7 1094.4 1192.8 1098.8 1188.9 1103.2 1184.8 1107.4 1180.6 1111.6 1176.3 1115.7 1172.0 1119.8 1167.7 1123.8 1163.4 1127.9 1159.0 1131.9 1154.6 1135.9 1150.2 1139.9 1145.8 1144.0 1141.4 1148.0 1137.1 1152.0 1132.7 1156.1 1128.3 1160.1 1124.0 1164.1 1119.6 1168.2 1115.2 1172.2 1110.8 1176.2 1106.5 1180.3 1102.1 1184.3 1097.7 1188.3 1093.3 1192.4 1089.0 1196.5 1084.7 1200.7 1080.5 1204.9 1076.3 1209.2 1072.1 1213.5 1068.0 1217.8 1063.8 1222.1 1059.8 1226.6 1055.8 1231.2 1052.1 1236.0 1048.5 1240.9 1045.2 1245.9 1041.9 1251.0 1038.9 1256.2 1035.9 1261.2 1032.7 1265.8 1029.0 1270.3 1025.1 1274.9 1020.5 1279.8 1018.9 1285.1 1022.1 1288.9 1026.6 1292.6 1031.3 1297.1 1035.6 1302.2 1038.0 1308.2 1039.0" stroke="#000" stroke-width="6.0" fill="none" stroke-linejoin="round" stroke-linecap="butt"/>
</g>
<g clip-path="url(#cb2)">
<path d="M1466.7 1251.5 1472.6 1252.6 1478.5 1253.4 1484.4 1254.2 1490.4 1254.7 1496.3 1255.3 1502.3 1255.8 1508.3 1256.4 1514.1 1257.3 1519.7 1259.6 1525.3 1261.7 1531.1 1263.1 1537.0 1264.3 1542.9 1265.2 1548.8 1266.2 1554.7 1267.0 1560.7 1267.7 1566.6 1267.8 1572.6 1267.8 1578.6 1267.8 1584.6 1267.8 1590.6 1267.8 1596.5 1267.3 1602.5 1266.6 1608.4 1265.9 1614.3 1265.1 1620.3 1264.3 1626.2 1263.5 1632.1 1262.5 1638.0 1261.5 1643.9 1260.4 1649.7 1259.2 1655.6 1257.8 1661.3 1256.3 1667.0 1254.5 1672.6 1252.4 1678.2 1250.1 1683.7 1247.8 1689.2 1245.6 1694.8 1243.3 1700.3 1241.0 1705.7 1238.5 1711.0 1235.8 1716.3 1232.9 1721.5 1229.9 1726.6 1226.7 1731.5 1223.4 1736.4 1219.9 1741.1 1216.3 1745.8 1212.6 1750.5 1208.8 1755.1 1205.1 1759.8 1201.3 1764.3 1197.3 1768.7 1193.3 1773.0 1189.2 1777.2 1184.9 1781.3 1180.6 1785.5 1176.3 1789.6 1171.9 1793.6 1167.5 1797.7 1163.1 1801.7 1158.7 1805.7 1154.3 1809.8 1149.9 1813.8 1145.5 1817.9 1141.1 1822.0 1136.7 1826.0 1132.3 1830.1 1128.0 1834.1 1123.6 1838.2 1119.2 1842.2 1114.8 1846.2 1110.3 1850.3 1105.9 1854.3 1101.5 1858.4 1097.1 1862.6 1092.9 1866.9 1088.8 1871.4 1084.7 1875.8 1080.8 1880.4 1076.9 1885.1 1073.2 1889.9 1069.6 1894.7 1066.1 1899.7 1062.8 1904.7 1059.5 1909.9 1056.5 1915.2 1053.8 1920.7 1051.5 1926.3 1049.4 1932.0 1047.3 1937.7 1045.2 1943.5 1044.8 1949.5 1046.3 1954.5 1049.0 1959.0 1053.3 1963.0 1057.7 1966.8 1062.4 1970.9 1066.7 1975.6 1070.3 1980.7 1073.5" stroke="#00ff00" stroke-width="5.6" fill="none" stroke-linejoin="round" stroke-linecap="butt"/>
<path d="M1466.7 1263.1 1472.5 1264.3 1478.3 1265.7 1484.1 1267.2 1489.8 1268.8 1495.5 1270.6 1501.2 1272.5 1506.7 1274.6 1511.9 1277.5 1516.7 1281.2 1522.2 1283.2 1528.1 1284.1 1534.1 1284.1 1540.0 1284.1 1546.0 1284.1 1551.9 1284.0 1557.9 1283.7 1563.8 1283.3 1569.8 1282.8 1575.7 1282.2 1581.6 1281.5 1587.5 1280.6 1593.4 1279.8 1599.3 1278.9 1605.2 1278.1 1611.1 1277.1 1616.9 1276.0 1622.7 1274.9 1628.5 1273.5 1634.3 1272.1 1640.1 1270.5 1645.8 1268.8 1651.4 1266.9 1657.0 1264.9 1662.5 1262.7 1668.0 1260.4 1673.5 1257.9 1678.8 1255.3 1684.1 1252.6 1689.4 1249.8 1694.6 1247.0 1699.9 1244.2 1705.1 1241.2 1710.2 1238.2 1715.1 1234.9 1720.0 1231.5 1724.7 1227.9 1729.4 1224.2 1734.0 1220.4 1738.4 1216.4 1742.8 1212.4 1747.1 1208.3 1751.4 1204.1 1755.7 1200.0 1760.0 1195.8 1764.2 1191.6 1768.3 1187.3 1772.3 1182.9 1776.2 1178.4 1780.0 1173.9 1783.8 1169.3 1787.7 1164.8 1791.6 1160.2 1795.4 1155.7 1799.3 1151.2 1803.2 1146.7 1807.0 1142.2 1810.9 1137.6 1814.8 1133.1 1818.6 1128.6 1822.5 1124.0 1826.4 1119.6 1830.4 1115.2 1834.5 1110.8 1838.5 1106.5 1842.6 1102.1 1846.6 1097.7 1850.6 1093.3 1854.7 1088.9 1858.7 1084.6 1862.8 1080.2 1866.9 1075.9 1871.0 1071.7 1875.2 1067.4 1879.5 1063.3 1883.9 1059.3 1888.4 1055.3 1892.9 1051.5 1897.6 1047.8 1902.3 1044.2 1907.1 1040.5 1911.9 1037.1 1917.0 1034.1 1922.4 1031.4 1928.0 1029.3 1933.8 1028.0 1939.7 1027.2 1945.5 1027.8 1951.1 1030.4 1956.0 1033.5 1960.5 1037.6 1964.7 1041.8 1968.5 1046.4 1972.4 1051.0 1976.5 1055.3 1980.7 1059.4" stroke="#000" stroke-width="6.0" fill="none" stroke-linejoin="round" stroke-linecap="butt"/>
</g>
<path d="M137.2 1063.8h0M137.2 1095.8h0M297.5 1288.2h0M297.5 1320.2h0M297.5 1352.3h0M297.5 1384.4h0M313.6 1240.1h0M313.6 1272.2h0M313.6 1304.2h0M313.6 1336.3h0M313.6 1368.3h0M313.6 1400.4h0M329.6 1224.1h0M329.6 1256.1h0M329.6 1288.2h0M329.6 1320.2h0M329.6 1352.3h0M329.6 1384.4h0M345.6 1208.0h0M345.6 1240.1h0M345.6 1272.2h0M345.6 1304.2h0M345.6 1336.3h0M345.6 1368.3h0M361.6 1160.0h0M361.6 1192.0h0M361.6 1224.1h0M361.6 1256.1h0M361.6 1288.2h0M361.6 1320.2h0M361.6 1352.3h0M377.7 1143.9h0M377.7 1176.0h0M377.7 1208.0h0M377.7 1240.1h0M377.7 1272.2h0M377.7 1304.2h0M377.7 1336.3h0M393.7 1127.9h0M393.7 1160.0h0M393.7 1192.0h0M393.7 1224.1h0M393.7 1256.1h0M393.7 1288.2h0M393.7 1320.2h0M409.7 1111.9h0M409.7 1143.9h0M409.7 1176.0h0M409.7 1208.0h0M409.7 1240.1h0M409.7 1272.2h0M409.7 1304.2h0M425.8 1095.8h0M425.8 1127.9h0M425.8 1160.0h0M425.8 1192.0h0M425.8 1224.1h0M425.8 1256.1h0M425.8 1288.2h0M441.8 1079.8h0M441.8 1111.9h0M441.8 1143.9h0M441.8 1176.0h0M441.8 1208.0h0M441.8 1240.1h0M441.8 1272.2h0M457.8 1063.8h0M457.8 1095.8h0M457.8 1127.9h0M457.8 1160.0h0M457.8 1192.0h0M457.8 1224.1h0M473.9 1079.8h0M473.9 1111.9h0M473.9 1143.9h0M473.9 1176.0h0M473.9 1208.0h0M489.9 1063.8h0M489.9 1095.8h0M489.9 1127.9h0M489.9 1160.0h0M505.9 1047.7h0M505.9 1079.8h0M505.9 1111.9h0M505.9 1143.9h0M522.0 1031.7h0M522.0 1063.8h0M522.0 1095.8h0M538.0 1015.7h0M538.0 1047.7h0M538.0 1079.8h0M554.0 1031.7h0M554.0 1063.8h0M570.0 1015.7h0M570.0 1047.7h0M586.1 1031.7h0" stroke="#000" stroke-width="6.2" stroke-linecap="round" fill="none"/>
<path d="M1483.8 967.6h0M1483.8 999.7h0M1483.8 1031.7h0M1483.8 1063.8h0M1483.8 1095.8h0M1483.8 1127.9h0M1483.8 1160.0h0M1483.8 1192.0h0M1483.8 1320.2h0M1483.8 1352.3h0M1483.8 1384.4h0M1483.8 1416.4h0M1483.8 1448.5h0M1499.8 951.6h0M1499.8 983.6h0M1499.8 1015.7h0M1499.8 1047.7h0M1499.8 1079.8h0M1499.8 1111.9h0M1499.8 1143.9h0M1499.8 1176.0h0M1499.8 1208.0h0M1499.8 1304.2h0M1499.8 1336.3h0M1499.8 1368.3h0M1499.8 1400.4h0M1499.8 1432.5h0M1515.8 1031.7h0M1515.8 1063.8h0M1515.8 1095.8h0M1515.8 1127.9h0M1515.8 1160.0h0M1515.8 1192.0h0M1515.8 1224.1h0M1515.8 1288.2h0M1515.8 1320.2h0M1515.8 1352.3h0M1515.8 1384.4h0M1515.8 1416.4h0M1515.8 1448.5h0M1531.8 1079.8h0M1531.8 1111.9h0M1531.8 1143.9h0M1531.8 1176.0h0M1531.8 1208.0h0M1531.8 1240.1h0M1531.8 1272.2h0M1531.8 1304.2h0M1531.8 1336.3h0M1531.8 1368.3h0M1531.8 1400.4h0M1531.8 1432.5h0M1547.9 1095.8h0M1547.9 1127.9h0M1547.9 1160.0h0M1547.9 1192.0h0M1547.9 1224.1h0M1547.9 1256.1h0M1547.9 1288.2h0M1547.9 1320.2h0M1547.9 1352.3h0M1547.9 1384.4h0M1547.9 1416.4h0M1547.9 1448.5h0M1563.9 1079.8h0M1563.9 1111.9h0M1563.9 1143.9h0M1563.9 1176.0h0M1563.9 1208.0h0M1563.9 1240.1h0M1563.9 1272.2h0M1563.9 1304.2h0M1563.9 1336.3h0M1563.9 1368.3h0M1563.9 1400.4h0M1563.9 1432.5h0M1579.9 1095.8h0M1579.9 1127.9h0M1579.9 1160.0h0M1579.9 1192.0h0M1579.9 1224.1h0M1579.9 1256.1h0M1579.9 1288.2h0M1579.9 1320.2h0M1579.9 1352.3h0M1579.9 1384.4h0M1579.9 1416.4h0M1579.9 1448.5h0M1596.0 951.6h0M1596.0 983.6h0M1596.0 1111.9h0M1596.0 1143.9h0M1596.0 1176.0h0M1596.0 1208.0h0M1596.0 1240.1h0M1596.0 1272.2h0M1596.0 1304.2h0M1596.0 1336.3h0M1596.0 1368.3h0M1596.0 1400.4h0M1596.0 1432.5h0M1612.0 967.6h0M1612.0 999.7h0M1612.0 1031.7h0M1612.0 1127.9h0M1612.0 1160.0h0M1612.0 1192.0h0M1612.0 1224.1h0M1612.0 1256.1h0M1612.0 1288.2h0M1612.0 1320.2h0M1612.0 1352.3h0M1612.0 1384.4h0M1612.0 1416.4h0M1628.0 951.6h0M1628.0 983.6h0M1628.0 1015.7h0M1628.0 1047.7h0M1628.0 1143.9h0M1628.0 1176.0h0M1628.0 1208.0h0M1628.0 1240.1h0M1628.0 1272.2h0M1628.0 1304.2h0M1628.0 1336.3h0M1628.0 1368.3h0M1644.0 967.6h0M1644.0 999.7h0M1644.0 1031.7h0M1644.0 1160.0h0M1644.0 1192.0h0M1644.0 1224.1h0M1644.0 1256.1h0M1660.1 951.6h0M1660.1 983.6h0M1660.1 1015.7h0M1660.1 1047.7h0M1660.1 1176.0h0M1660.1 1208.0h0M1660.1 1240.1h0M1676.1 967.6h0M1676.1 999.7h0M1676.1 1031.7h0M1676.1 1063.8h0M1676.1 1095.8h0M1692.1 951.6h0M1692.1 983.6h0M1692.1 1015.7h0M1692.1 1047.7h0M1692.1 1079.8h0M1692.1 1111.9h0M1708.2 967.6h0M1708.2 999.7h0M1708.2 1031.7h0M1708.2 1063.8h0M1708.2 1095.8h0M1708.2 1127.9h0M1708.2 1288.2h0M1708.2 1320.2h0M1708.2 1352.3h0M1724.2 951.6h0M1724.2 983.6h0M1724.2 1015.7h0M1724.2 1047.7h0M1724.2 1079.8h0M1724.2 1111.9h0M1724.2 1143.9h0M1724.2 1176.0h0M1724.2 1240.1h0M1724.2 1272.2h0M1724.2 1304.2h0M1724.2 1336.3h0M1724.2 1368.3h0M1740.2 967.6h0M1740.2 999.7h0M1740.2 1031.7h0M1740.2 1063.8h0M1740.2 1095.8h0M1740.2 1127.9h0M1740.2 1160.0h0M1740.2 1192.0h0M1740.2 1224.1h0M1740.2 1256.1h0M1740.2 1288.2h0M1740.2 1320.2h0M1756.3 951.6h0M1756.3 983.6h0M1756.3 1015.7h0M1756.3 1047.7h0M1756.3 1079.8h0M1756.3 1111.9h0M1756.3 1143.9h0M1756.3 1176.0h0M1756.3 1208.0h0M1756.3 1240.1h0M1756.3 1272.2h0M1756.3 1304.2h0M1772.3 967.6h0M1772.3 999.7h0M1772.3 1031.7h0M1772.3 1063.8h0M1772.3 1095.8h0M1772.3 1127.9h0M1772.3 1160.0h0M1772.3 1192.0h0M1772.3 1224.1h0M1772.3 1256.1h0M1772.3 1288.2h0M1788.3 951.6h0M1788.3 983.6h0M1788.3 1015.7h0M1788.3 1047.7h0M1788.3 1079.8h0M1788.3 1111.9h0M1788.3 1143.9h0M1788.3 1176.0h0M1788.3 1208.0h0M1788.3 1240.1h0M1788.3 1272.2h0M1804.4 967.6h0M1804.4 999.7h0M1804.4 1031.7h0M1804.4 1063.8h0M1804.4 1095.8h0M1804.4 1127.9h0M1804.4 1160.0h0M1804.4 1192.0h0M1804.4 1224.1h0M1804.4 1256.1h0M1820.4 951.6h0M1820.4 983.6h0M1820.4 1015.7h0M1820.4 1047.7h0M1820.4 1079.8h0M1820.4 1111.9h0M1820.4 1143.9h0M1820.4 1176.0h0M1820.4 1208.0h0M1820.4 1240.1h0M1836.4 967.6h0M1836.4 999.7h0M1836.4 1031.7h0M1836.4 1063.8h0M1836.4 1095.8h0M1836.4 1127.9h0M1836.4 1160.0h0M1836.4 1192.0h0M1836.4 1224.1h0M1852.4 951.6h0M1852.4 983.6h0M1852.4 1015.7h0M1852.4 1047.7h0M1852.4 1079.8h0M1852.4 1111.9h0M1852.4 1143.9h0M1852.4 1176.0h0M1852.4 1208.0h0M1868.5 967.6h0M1868.5 999.7h0M1868.5 1031.7h0M1868.5 1063.8h0M1868.5 1095.8h0M1868.5 1127.9h0M1868.5 1160.0h0M1868.5 1192.0h0M1868.5 1448.5h0M1884.5 951.6h0M1884.5 983.6h0M1884.5 1015.7h0M1884.5 1047.7h0M1884.5 1079.8h0M1884.5 1111.9h0M1884.5 1143.9h0M1884.5 1176.0h0M1884.5 1432.5h0M1900.5 967.6h0M1900.5 999.7h0M1900.5 1031.7h0M1900.5 1063.8h0M1900.5 1095.8h0M1900.5 1127.9h0M1900.5 1160.0h0M1900.5 1416.4h0M1900.5 1448.5h0M1916.6 951.6h0M1916.6 983.6h0M1916.6 1015.7h0M1916.6 1047.7h0M1916.6 1079.8h0M1916.6 1111.9h0M1916.6 1143.9h0M1916.6 1400.4h0M1916.6 1432.5h0M1932.6 967.6h0M1932.6 999.7h0M1932.6 1031.7h0M1932.6 1063.8h0M1932.6 1095.8h0M1932.6 1127.9h0M1932.6 1384.4h0M1932.6 1416.4h0M1932.6 1448.5h0M1948.6 951.6h0M1948.6 983.6h0M1948.6 1015.7h0M1948.6 1047.7h0M1948.6 1079.8h0M1948.6 1111.9h0M1948.6 1143.9h0M1948.6 1368.3h0M1948.6 1400.4h0M1948.6 1432.5h0M1964.7 967.6h0M1964.7 999.7h0M1964.7 1031.7h0M1964.7 1063.8h0M1964.7 1095.8h0M1964.7 1127.9h0M1964.7 1160.0h0M1964.7 1192.0h0M1964.7 1224.1h0M1964.7 1256.1h0M1964.7 1288.2h0M1964.7 1320.2h0M1964.7 1352.3h0M1964.7 1384.4h0M1964.7 1416.4h0M1964.7 1448.5h0" stroke="#000" stroke-width="6.2" stroke-linecap="round" fill="none"/>
<path d="M810.5 967.6h0M810.5 999.7h0M810.5 1031.7h0M810.5 1063.8h0M826.5 951.6h0M826.5 983.6h0M826.5 1015.7h0M826.5 1047.7h0M842.5 967.6h0M842.5 999.7h0M842.5 1031.7h0M842.5 1063.8h0M842.5 1095.8h0M858.6 951.6h0M858.6 983.6h0M858.6 1015.7h0M858.6 1047.7h0M858.6 1079.8h0M858.6 1111.9h0M874.6 967.6h0M874.6 999.7h0M874.6 1031.7h0M874.6 1063.8h0M874.6 1095.8h0M874.6 1127.9h0M890.6 951.6h0M890.6 983.6h0M890.6 1015.7h0M890.6 1047.7h0M890.6 1079.8h0M890.6 1111.9h0M906.7 1063.8h0M906.7 1095.8h0M922.7 1079.8h0M922.7 1111.9h0M1034.9 967.6h0M1034.9 999.7h0M1034.9 1031.7h0M1034.9 1063.8h0M1050.9 951.6h0M1050.9 983.6h0M1050.9 1015.7h0M1050.9 1047.7h0M1050.9 1079.8h0M1067.0 967.6h0M1067.0 999.7h0M1067.0 1031.7h0M1067.0 1063.8h0M1067.0 1095.8h0M1083.0 951.6h0M1083.0 983.6h0M1083.0 1015.7h0M1083.0 1047.7h0M1083.0 1079.8h0M1083.0 1111.9h0M1083.0 1143.9h0M1083.0 1240.1h0M1083.0 1272.2h0M1099.0 967.6h0M1099.0 999.7h0M1099.0 1031.7h0M1099.0 1063.8h0M1099.0 1095.8h0M1099.0 1127.9h0M1099.0 1160.0h0M1099.0 1192.0h0M1099.0 1224.1h0M1099.0 1256.1h0M1099.0 1288.2h0M1115.1 951.6h0M1115.1 983.6h0M1115.1 1015.7h0M1115.1 1047.7h0M1115.1 1079.8h0M1115.1 1111.9h0M1115.1 1143.9h0M1115.1 1176.0h0M1115.1 1208.0h0M1115.1 1240.1h0M1115.1 1272.2h0M1131.1 967.6h0M1131.1 999.7h0M1131.1 1031.7h0M1131.1 1063.8h0M1131.1 1095.8h0M1131.1 1127.9h0M1131.1 1160.0h0M1131.1 1192.0h0M1131.1 1224.1h0M1131.1 1256.1h0M1147.1 951.6h0M1147.1 983.6h0M1147.1 1015.7h0M1147.1 1047.7h0M1147.1 1079.8h0M1147.1 1111.9h0M1147.1 1143.9h0M1147.1 1176.0h0M1147.1 1208.0h0M1147.1 1240.1h0M1163.2 967.6h0M1163.2 999.7h0M1163.2 1031.7h0M1163.2 1063.8h0M1163.2 1095.8h0M1163.2 1127.9h0M1163.2 1160.0h0M1163.2 1192.0h0M1179.2 951.6h0M1179.2 983.6h0M1179.2 1015.7h0M1179.2 1047.7h0M1179.2 1079.8h0M1179.2 1111.9h0M1179.2 1143.9h0M1179.2 1176.0h0M1195.2 967.6h0M1195.2 999.7h0M1195.2 1031.7h0M1195.2 1063.8h0M1195.2 1095.8h0M1195.2 1127.9h0M1195.2 1160.0h0M1211.2 951.6h0M1211.2 983.6h0M1211.2 1015.7h0M1211.2 1047.7h0M1211.2 1079.8h0M1211.2 1111.9h0M1227.3 967.6h0M1227.3 999.7h0M1227.3 1031.7h0M1227.3 1063.8h0M1227.3 1095.8h0M1243.3 951.6h0M1243.3 983.6h0M1243.3 1015.7h0M1243.3 1047.7h0M1243.3 1079.8h0M1259.3 967.6h0M1259.3 999.7h0M1259.3 1031.7h0M1259.3 1063.8h0M1259.3 1095.8h0M1275.4 951.6h0M1275.4 983.6h0M1275.4 1015.7h0M1275.4 1047.7h0M1275.4 1079.8h0M1291.4 967.6h0M1291.4 999.7h0M1291.4 1031.7h0M1291.4 1063.8h0M1291.4 1095.8h0M1291.4 1127.9h0M1291.4 1448.5h0" stroke="#000" stroke-width="6.2" stroke-linecap="round" fill="none"/>
<path clip-path="url(#ct0)" d="M217.9 206.6L208.8 230.7M206.6 210.8L208.8 230.7L223.6 217.2M149.0 273.1L150.9 290.5M139.9 273.8L150.9 290.5L158.0 271.8M177.0 273.1L179.9 289.5M167.9 273.5L179.9 289.5L185.7 270.4M205.9 261.5L206.9 292.4M197.2 274.9L206.9 292.4L215.4 274.3M147.7 321.3L148.0 338.7M138.6 321.0L148.0 338.7L156.8 320.7M177.0 320.4L178.9 337.7M167.9 321.0L178.9 337.7L186.0 319.0M201.1 305.5L210.3 342.2M197.2 327.1L210.3 342.2L214.8 322.7M177.6 359.9L177.6 377.3M168.5 359.5L177.6 377.3L186.7 359.5M199.2 343.5L211.7 384.0M197.8 369.7L211.7 384.0L215.1 364.3M200.1 377.3L212.7 419.7M198.9 405.2L212.7 419.7L216.3 400.0M194.8 408.8L202.0 448.8M189.9 432.9L202.0 448.8L207.8 429.7M218.0 409.6L239.6 446.4M222.7 435.6L239.6 446.4L238.4 426.4M140.4 416.8L134.8 436.8M130.9 417.2L134.8 436.8L148.3 422.1M136.0 446.0L124.0 462.0M127.4 442.3L124.0 462.0L142.0 453.2M158.0 452.0L151.6 466.4M150.5 446.4L151.6 466.4L167.1 453.8M186.0 453.6L179.6 468.8M178.1 448.9L179.6 468.8L194.9 455.9M208.4 435.2L219.6 476.0M206.1 461.2L219.6 476.0L223.6 456.4M232.4 443.2L255.6 470.4M237.1 462.7L255.6 470.4L250.9 450.9M259.6 445.6L282.8 465.6M263.4 460.8L282.8 465.6L275.2 447.1M185.2 496.8L182.0 511.2M177.0 491.8L182.0 511.2L194.7 495.8M209.2 488.0L218.0 518.4M204.3 503.8L218.0 518.4L221.8 498.8M232.4 488.8L254.0 516.8M235.9 508.2L254.0 516.8L250.3 497.1M190.0 538.4L196.4 549.6M179.7 538.6L196.4 549.6L195.4 529.6M210.8 530.4L230.0 554.4M211.8 546.2L230.0 554.4L226.0 534.8M236.4 530.4L263.6 552.8M244.1 548.5L263.6 552.8L255.6 534.5M191.6 584.0L220.4 602.4M200.5 600.5L220.4 602.4L210.3 585.2M214.8 583.2L255.6 601.6M235.6 602.6L255.6 601.6L243.1 586.0M237.2 581.6L291.6 598.4M271.9 601.8L291.6 598.4L277.3 584.5M262.8 586.4L322.8 597.6M303.6 603.3L322.8 597.6L306.9 585.4M290.0 588.0L352.4 600.0M333.2 605.6L352.4 600.0L336.6 587.7M322.0 587.2L378.8 600.0M359.4 604.9L378.8 600.0L363.4 587.2M499.0 429.7L519.2 427.9M502.3 438.5L519.2 427.9L500.6 420.4M512.9 457.6L534.5 454.5M518.2 466.0L534.5 454.5L515.6 448.0M494.4 455.9L502.1 453.6M487.7 467.5L502.1 453.6L482.4 450.1M487.7 503.3L494.9 499.9M482.7 515.8L494.9 499.9L474.9 499.4M517.1 502.9L525.0 501.7M508.7 513.3L525.0 501.7L506.0 495.4M545.7 503.8L553.4 501.7M538.6 515.1L553.4 501.7L533.8 497.6M588.9 219.4L596.0 215.7M584.3 231.9L596.0 215.7L576.0 215.8" stroke="#000" stroke-width="3.9" fill="none" stroke-linecap="round" stroke-linejoin="round"/>
<path clip-path="url(#ct1)" d="M902.0 217.3L872.6 223.6M888.1 211.0L872.6 223.6L891.9 228.7M930.6 216.1L899.0 230.0M911.7 214.5L899.0 230.0L919.0 231.1M966.8 222.6L930.6 216.9M949.6 210.7L930.6 216.9L946.8 228.6M1254.9 222.3L1322.0 209.5M1306.2 221.8L1322.0 209.5L1302.8 203.9M911.0 265.1L887.7 288.4M893.9 269.4L887.7 288.4L906.7 282.2M1151.5 292.8L1122.5 259.1M1141.0 266.7L1122.5 259.1L1127.2 278.5M1208.7 285.7L1193.8 267.7M1212.2 275.6L1193.8 267.7L1198.2 287.2M1272.9 277.9L1325.0 266.5M1309.5 279.2L1325.0 266.5L1305.7 261.4M868.8 313.3L869.6 333.6M859.8 316.2L869.6 333.6L878.0 315.4M904.3 310.3L895.2 337.4M892.3 317.6L895.2 337.4L909.5 323.4M1111.5 339.0L1090.3 307.7M1107.8 317.4L1090.3 307.7L1092.8 327.5M1145.2 341.4L1115.4 303.8M1133.6 312.1L1115.4 303.8L1119.4 323.4M1176.5 339.0L1142.0 306.9M1161.2 312.4L1142.0 306.9L1148.9 325.7M1203.2 335.1L1172.6 311.6M1192.3 315.3L1172.6 311.6L1181.2 329.7M862.1 363.0L865.1 374.3M851.8 359.4L865.1 374.3L869.3 354.7M890.7 347.2L893.0 379.6M882.7 362.5L893.0 379.6L900.8 361.2M1023.6 373.6L1025.1 352.5M1032.9 370.9L1025.1 352.5L1014.8 369.6M1062.1 377.4L1051.9 349.2M1066.5 362.9L1051.9 349.2L1049.4 369.0M1094.3 379.8L1077.8 346.9M1093.9 358.8L1077.8 346.9L1077.7 366.9M1127.9 380.6L1102.9 345.3M1120.6 354.6L1102.9 345.3L1105.8 365.1M1161.6 380.6L1127.9 343.7M1146.6 350.7L1127.9 343.7L1133.2 363.0M1190.6 375.9L1156.2 349.2M1175.8 353.0L1156.2 349.2L1164.7 367.3M1217.3 370.4L1186.7 355.5M1206.7 355.1L1186.7 355.5L1198.7 371.5M1243.9 366.5L1218.1 360.2M1237.6 355.6L1218.1 360.2L1233.3 373.2M835.2 398.6L853.9 407.6M833.9 408.0L853.9 407.6L841.8 391.7M870.8 382.6L884.0 411.2M868.3 398.9L884.0 411.2L884.8 391.3M900.9 381.1L912.1 413.7M897.7 399.7L912.1 413.7L914.9 393.9M1023.6 405.2L1028.1 385.6M1032.9 405.0L1028.1 385.6L1015.2 401.0M1050.7 405.2L1055.2 382.6M1060.6 401.9L1055.2 382.6L1042.8 398.3M1088.4 411.2L1077.8 381.1M1092.3 394.9L1077.8 381.1L1075.1 400.9M1117.0 408.2L1103.4 379.6M1119.3 391.8L1103.4 379.6L1102.9 399.6M1145.6 405.2L1129.1 379.6M1146.4 389.6L1129.1 379.6L1131.1 399.5M1178.8 402.2L1156.2 382.6M1175.6 387.4L1156.2 382.6L1163.7 401.1M1211.9 400.7L1187.8 390.2M1207.8 389.0L1187.8 390.2L1200.5 405.6M1242.1 402.2L1216.5 396.2M1235.9 391.4L1216.5 396.2L1231.7 409.1M1269.2 400.7L1248.1 396.2M1267.4 391.0L1248.1 396.2L1263.6 408.8M815.6 429.9L832.8 436.9M812.9 438.6L832.8 436.9L819.7 421.8M844.2 424.8L862.3 438.4M842.6 434.9L862.3 438.4L853.5 420.4M875.9 411.2L894.0 445.9M877.7 434.3L894.0 445.9L893.8 425.9M906.0 412.8L922.6 441.4M905.8 430.5L922.6 441.4L921.5 421.4M1046.2 438.4L1044.7 412.8M1054.8 430.0L1044.7 412.8L1036.7 431.1M1067.3 444.4L1071.8 411.2M1078.4 430.1L1071.8 411.2L1060.4 427.7M1106.5 441.4L1097.4 409.7M1111.0 424.4L1097.4 409.7L1093.6 429.4M1136.6 438.4L1123.0 406.7M1138.4 419.5L1123.0 406.7L1121.7 426.7M1169.7 433.9L1151.7 411.2M1169.9 419.5L1151.7 411.2L1155.7 430.8M1202.9 433.9L1181.8 418.8M1201.6 421.8L1181.8 418.8L1191.0 436.5M1233.0 433.9L1210.4 421.8M1230.4 422.2L1210.4 421.8L1221.9 438.2M1263.2 421.8L1242.1 426.3M1257.6 413.7L1242.1 426.3L1261.4 431.5M830.7 444.4L847.3 468.5M829.7 459.0L847.3 468.5L844.6 448.7M862.3 444.4L878.9 470.0M861.6 460.0L878.9 470.0L876.9 450.1M894.0 441.4L910.6 471.5M894.0 460.3L910.6 471.5L909.9 451.5M913.6 447.4L944.3 464.0M924.3 463.5L944.3 464.0L932.9 447.5M1026.6 459.5L1038.6 441.4M1036.3 461.3L1038.6 441.4L1021.2 451.2M1061.2 471.5L1065.8 438.4M1072.4 457.3L1065.8 438.4L1054.4 454.8M1094.4 474.5L1088.4 436.9M1100.2 453.0L1088.4 436.9L1082.2 455.9M1126.0 477.6L1114.0 436.9M1127.8 451.4L1114.0 436.9L1110.3 456.5M1159.2 473.0L1139.6 441.4M1156.7 451.8L1139.6 441.4L1141.3 461.3M1187.8 465.5L1168.2 442.9M1186.8 450.4L1168.2 442.9L1173.0 462.3M1218.0 464.0L1201.4 447.4M1220.4 453.6L1201.4 447.4L1207.6 466.4M1243.6 461.0L1227.0 453.4M1247.0 452.5L1227.0 453.4L1239.5 469.1M1279.8 454.9L1261.7 453.4M1280.2 445.9L1261.7 453.4L1278.7 464.0M848.8 494.1L875.9 512.2M856.0 509.9L875.9 512.2L866.1 494.8M871.4 489.6L907.5 516.7M887.8 513.3L907.5 516.7L898.7 498.8M901.5 488.1L939.2 516.7M919.5 513.2L939.2 516.7L930.5 498.7M931.7 497.1L966.3 506.2M946.8 510.5L966.3 506.2L951.4 492.9M951.2 494.1L994.9 503.2M975.7 508.5L994.9 503.2L979.3 490.7M1059.7 516.7L1067.3 486.6M1071.8 506.1L1067.3 486.6L1054.1 501.7M1092.9 519.7L1092.9 483.6M1102.0 501.4L1092.9 483.6L1083.8 501.4M1121.5 522.8L1120.0 483.6M1129.8 501.0L1120.0 483.6L1111.6 501.7M1154.7 521.3L1145.6 486.6M1158.9 501.5L1145.6 486.6L1141.3 506.1M1184.8 516.7L1172.8 486.6M1187.8 499.8L1172.8 486.6L1170.9 506.5M1211.9 512.2L1201.4 491.1M1217.5 503.0L1201.4 491.1L1201.2 511.1M1239.1 509.2L1231.5 495.6M1248.1 506.8L1231.5 495.6L1232.2 515.6M1264.7 515.2L1267.7 497.1M1273.7 516.2L1267.7 497.1L1255.8 513.2M848.8 534.8L875.9 551.4M856.0 549.8L875.9 551.4L865.4 534.4M871.4 530.3L907.5 557.4M887.8 554.0L907.5 557.4L898.7 539.5M900.0 527.3L940.7 558.9M921.1 555.2L940.7 558.9L932.2 540.8M928.6 531.8L972.3 548.4M952.5 550.5L972.3 548.4L958.9 533.6M952.7 537.8L1004.0 545.4M985.0 551.8L1004.0 545.4L987.7 533.8M1016.0 548.4L1052.2 533.3M1039.2 548.5L1052.2 533.3L1032.3 531.8M1050.7 551.4L1076.3 527.3M1069.6 546.1L1076.3 527.3L1057.1 532.9M1083.9 557.4L1100.4 524.3M1100.6 544.3L1100.4 524.3L1084.3 536.1M1114.0 561.9L1124.5 522.8M1128.7 542.3L1124.5 522.8L1111.1 537.6M1145.6 560.4L1151.7 525.8M1157.6 544.9L1151.7 525.8L1139.7 541.8M1175.8 555.9L1180.3 525.8M1186.6 544.7L1180.3 525.8L1168.7 542.1M1207.4 551.4L1210.4 530.3M1216.9 549.2L1210.4 530.3L1198.9 546.7M1233.0 551.4L1239.1 533.3M1242.0 553.1L1239.1 533.3L1224.8 547.3M1255.6 548.4L1269.2 536.3M1261.9 554.9L1269.2 536.3L1249.9 541.4M865.3 584.5L884.9 604.1M865.9 598.0L884.9 604.1L878.8 585.1M894.0 578.5L916.6 610.2M898.8 600.9L916.6 610.2L913.6 590.4M942.2 584.5L985.9 598.1M966.2 601.5L985.9 598.1L971.6 584.2M967.8 586.1L1022.1 596.6M1002.8 602.1L1022.1 596.6L1006.3 584.3M991.9 590.6L1050.7 590.6M1032.9 599.7L1050.7 590.6L1032.9 581.5M1052.2 601.1L1100.4 575.5M1089.0 591.9L1100.4 575.5L1080.4 575.8M1085.4 610.2L1123.0 571.0M1117.2 590.1L1123.0 571.0L1104.1 577.5M1120.0 611.7L1150.2 571.0M1146.8 590.7L1150.2 571.0L1132.3 579.9M1153.2 610.2L1175.8 571.0M1174.7 591.0L1175.8 571.0L1159.0 581.9M1184.8 604.1L1201.4 574.0M1200.8 594.0L1201.4 574.0L1184.8 585.2M1219.5 604.1L1227.0 578.5M1230.7 598.2L1227.0 578.5L1213.3 593.1M1243.6 601.1L1252.6 583.0M1252.8 603.0L1252.6 583.0L1236.5 594.9M1273.7 602.6L1279.8 586.1M1282.2 605.9L1279.8 586.1L1265.1 599.7M1290.3 604.1L1284.3 589.1M1299.3 602.2L1284.3 589.1L1282.5 609.0M1082.3 625.2L1111.9 640.9M1091.9 640.6L1111.9 640.9L1100.4 624.5M1111.0 625.2L1140.5 640.9M1120.5 640.6L1140.5 640.9L1129.0 624.5M1139.6 625.2L1169.1 640.9M1149.1 640.6L1169.1 640.9L1157.7 624.5M1168.2 625.2L1197.8 640.9M1177.8 640.6L1197.8 640.9L1186.3 624.5M1196.9 625.8L1226.4 641.5M1206.4 641.2L1226.4 641.5L1214.9 625.1M1225.5 626.4L1255.0 642.1M1235.0 641.8L1255.0 642.1L1243.6 625.7M1266.2 634.3L1320.4 624.0M1304.6 636.3L1320.4 624.0L1301.2 618.4M1208.9 218.4L1204.0 212.1M1222.2 220.5L1204.0 212.1L1207.9 231.7M1246.3 218.6L1254.1 216.8M1238.8 229.7L1254.1 216.8L1234.7 212.0M957.8 273.7L950.2 271.1M970.0 268.3L950.2 271.1L964.1 285.5M987.5 274.4L979.6 273.4M998.4 266.5L979.6 273.4L996.2 284.6M1257.2 275.2L1265.1 274.0M1248.8 285.6L1265.1 274.0L1246.2 267.6M1276.9 321.9L1284.7 320.2M1269.2 332.8L1284.7 320.2L1265.4 315.0M821.6 397.7L825.6 404.6M808.8 393.7L825.6 404.6L824.6 384.6M1006.6 425.3L1007.0 417.3M1015.2 435.5L1007.0 417.3L997.0 434.6M838.0 508.1L843.6 513.7M824.6 507.5L843.6 513.7L837.5 494.7M1034.5 496.8L1040.2 491.1M1034.0 510.1L1040.2 491.1L1021.1 497.3M836.7 546.2L842.7 551.4M823.3 546.6L842.7 551.4L835.2 532.9M835.2 595.9L841.2 601.1M821.8 596.3L841.2 601.1L833.7 582.6M854.5 613.4L859.3 619.8M841.4 611.0L859.3 619.8L855.9 600.1M1269.0 456.7L1261.7 453.4M1281.6 452.4L1261.7 453.4L1274.3 469.0" stroke="#000" stroke-width="3.9" fill="none" stroke-linecap="round" stroke-linejoin="round"/>
<path clip-path="url(#ct2)" d="M1448.9 209.3L1486.6 219.9M1467.0 223.8L1486.6 219.9L1471.9 206.3M1485.1 218.4L1518.3 221.4M1499.7 228.8L1518.3 221.4L1501.3 210.7M1572.5 209.9L1568.9 228.0M1563.5 208.8L1568.9 228.0L1581.3 212.3M1647.9 225.9L1610.2 212.3M1630.0 209.8L1610.2 212.3L1623.9 226.9M1676.5 228.9L1637.3 212.3M1657.3 210.9L1637.3 212.3L1650.2 227.6M1703.6 230.4L1665.9 207.8M1685.9 209.2L1665.9 207.8L1676.6 224.8M1732.2 227.4L1694.6 210.8M1714.5 209.7L1694.6 210.8L1707.2 226.3M1759.4 225.9L1721.7 212.3M1741.5 209.8L1721.7 212.3L1735.4 226.9M1789.5 227.4L1748.8 213.8M1768.6 210.9L1748.8 213.8L1762.9 228.1M1819.6 225.9L1777.5 213.8M1797.1 210.0L1777.5 213.8L1792.1 227.5M1849.8 227.4L1807.6 213.8M1827.3 210.6L1807.6 213.8L1821.8 227.9M1879.9 228.9L1839.2 212.3M1859.2 210.6L1839.2 212.3L1852.3 227.5M1910.1 227.4L1866.4 213.8M1886.1 210.4L1866.4 213.8L1880.7 227.8M1937.2 225.9L1896.5 212.3M1916.3 209.4L1896.5 212.3L1910.5 226.6M1958.3 228.9L1931.2 212.3M1951.1 213.9L1931.2 212.3L1941.6 229.4M1448.9 275.0L1483.6 277.1M1465.3 285.1L1483.6 277.1L1466.4 267.0M1482.1 275.6L1513.7 281.7M1494.5 287.2L1513.7 281.7L1497.9 269.4M1506.2 268.1L1540.9 287.7M1520.9 286.8L1540.9 287.7L1529.8 271.0M1545.4 266.6L1563.5 289.2M1545.2 280.9L1563.5 289.2L1559.4 269.6M1661.4 290.7L1634.3 262.1M1653.1 268.8L1634.3 262.1L1640.0 281.2M1691.6 293.7L1661.4 260.6M1680.1 267.6L1661.4 260.6L1666.7 279.8M1720.2 289.2L1690.1 263.6M1709.5 268.2L1690.1 263.6L1697.8 282.0M1751.8 287.7L1718.7 265.1M1738.5 267.6L1718.7 265.1L1728.3 282.6M1782.0 286.2L1745.8 268.1M1765.8 267.9L1745.8 268.1L1757.7 284.2M1810.6 286.2L1775.9 269.6M1795.9 269.1L1775.9 269.6L1788.1 285.5M1836.2 286.2L1807.6 266.6M1827.4 269.2L1807.6 266.6L1817.2 284.1M1863.4 287.7L1837.7 266.6M1857.3 270.9L1837.7 266.6L1845.7 284.9M1889.0 281.7L1869.4 271.1M1889.4 271.6L1869.4 271.1L1880.8 287.5M1916.1 283.2L1898.0 269.6M1917.7 273.0L1898.0 269.6L1906.8 287.6M1935.7 287.7L1934.2 268.1M1944.6 285.2L1934.2 268.1L1926.5 286.6M1448.9 323.2L1479.1 323.8M1461.1 332.6L1479.1 323.8L1461.4 314.4M1482.1 320.8L1510.7 331.4M1490.9 333.7L1510.7 331.4L1497.1 316.7M1504.7 313.3L1537.9 335.9M1518.0 333.4L1537.9 335.9L1528.2 318.4M1542.4 310.3L1565.0 337.4M1546.6 329.5L1565.0 337.4L1560.5 317.9M1656.9 341.9L1638.8 305.8M1654.9 317.6L1638.8 305.8L1638.7 325.8M1688.5 344.9L1665.9 304.3M1682.5 315.4L1665.9 304.3L1666.7 324.2M1718.7 340.4L1693.1 311.8M1711.7 319.0L1693.1 311.8L1698.2 331.1M1750.3 337.4L1721.7 310.3M1740.9 315.9L1721.7 310.3L1728.4 329.1M1780.5 335.9L1748.8 313.3M1768.6 316.3L1748.8 313.3L1758.0 331.0M1810.6 335.9L1777.5 314.8M1797.4 316.7L1777.5 314.8L1787.6 332.0M1834.7 332.9L1809.1 311.8M1828.6 316.1L1809.1 311.8L1817.1 330.1M1861.8 332.9L1837.7 310.3M1856.9 315.8L1837.7 310.3L1844.5 329.1M1892.0 331.4L1869.4 317.8M1889.3 319.2L1869.4 317.8L1880.0 334.8M1919.1 332.9L1901.0 317.8M1920.5 322.3L1901.0 317.8L1908.9 336.2M1937.2 332.9L1935.7 314.8M1946.2 331.8L1935.7 314.8L1928.1 333.3M1486.6 360.0L1506.2 370.6M1486.2 370.1L1506.2 370.6L1494.8 354.1M1512.2 351.0L1536.3 376.6M1517.5 369.8L1536.3 376.6L1530.7 357.4M1542.4 348.0L1566.5 378.1M1548.3 369.9L1566.5 378.1L1562.4 358.5M1616.2 367.5L1620.7 349.5M1625.2 369.0L1620.7 349.5L1607.6 364.5M1649.4 378.1L1644.8 346.4M1656.4 362.8L1644.8 346.4L1638.4 365.4M1685.5 384.1L1670.5 344.9M1685.3 358.3L1670.5 344.9L1668.4 364.8M1718.7 378.1L1696.1 349.5M1714.3 357.8L1696.1 349.5L1700.0 369.1M1748.8 376.6L1723.2 349.5M1742.0 356.2L1723.2 349.5L1728.8 368.7M1777.5 375.1L1751.8 348.0M1770.7 354.7L1751.8 348.0L1757.5 367.1M1807.6 375.1L1779.0 351.0M1798.4 355.5L1779.0 351.0L1786.7 369.4M1836.2 372.1L1809.1 348.0M1828.5 353.0L1809.1 348.0L1816.4 366.6M1863.4 372.1L1837.7 349.5M1857.1 354.4L1837.7 349.5L1845.1 368.1M1895.0 372.1L1864.9 355.5M1884.8 356.1L1864.9 355.5L1876.1 372.0M1922.1 372.1L1896.5 355.5M1916.4 357.5L1896.5 355.5L1906.5 372.8M1949.2 370.6L1929.7 352.5M1948.9 357.9L1929.7 352.5L1936.6 371.2M1494.2 390.2L1512.2 408.2M1493.2 402.1L1512.2 408.2L1506.1 389.2M1519.8 382.6L1543.9 412.8M1525.7 404.5L1543.9 412.8L1539.8 393.2M1546.9 379.6L1577.0 414.3M1558.5 406.8L1577.0 414.3L1572.2 394.9M1610.2 408.2L1625.3 385.6M1622.9 405.5L1625.3 385.6L1607.8 395.4M1641.8 418.8L1649.4 378.1M1655.0 397.3L1649.4 378.1L1637.2 394.0M1685.5 415.8L1675.0 379.6M1688.7 394.2L1675.0 379.6L1671.3 399.3M1717.2 412.8L1702.1 381.1M1718.0 393.3L1702.1 381.1L1701.6 401.1M1745.8 412.8L1727.7 382.6M1744.7 393.2L1727.7 382.6L1729.1 402.6M1774.4 411.2L1754.9 384.1M1772.6 393.3L1754.9 384.1L1757.9 403.9M1803.1 409.7L1782.0 385.6M1800.5 393.1L1782.0 385.6L1786.9 405.0M1831.7 408.2L1809.1 385.6M1828.1 391.8L1809.1 385.6L1815.3 404.7M1858.8 406.7L1836.2 384.1M1855.2 390.3L1836.2 384.1L1842.4 403.1M1887.5 406.7L1863.4 388.6M1883.1 392.1L1863.4 388.6L1872.2 406.6M1916.1 405.2L1895.0 388.6M1914.6 392.5L1895.0 388.6L1903.4 406.8M1943.2 405.2L1928.1 388.6M1946.9 395.7L1928.1 388.6L1933.4 407.9M1962.8 399.2L1947.7 384.7M1966.9 390.5L1947.7 384.7L1954.3 403.6M1501.7 417.3L1518.3 439.9M1500.4 430.9L1518.3 439.9L1515.0 420.1M1527.3 411.2L1552.9 444.4M1534.8 435.9L1552.9 444.4L1549.2 424.7M1554.4 411.2L1589.1 441.4M1569.7 436.5L1589.1 441.4L1581.6 422.8M1644.8 444.4L1661.4 408.2M1662.3 428.2L1661.4 408.2L1645.7 420.7M1687.0 442.9L1685.5 408.2M1695.4 425.6L1685.5 408.2L1677.2 426.4M1718.7 441.4L1711.2 409.7M1724.1 425.0L1711.2 409.7L1706.4 429.2M1745.8 441.4L1736.8 412.8M1750.8 427.0L1736.8 412.8L1733.5 432.5M1772.9 441.4L1765.4 414.3M1778.9 429.0L1765.4 414.3L1761.4 433.9M1800.1 439.9L1794.0 414.3M1807.0 429.5L1794.0 414.3L1789.3 433.7M1828.7 438.4L1819.6 414.3M1834.4 427.8L1819.6 414.3L1817.4 434.1M1855.8 438.4L1846.8 414.3M1861.5 427.8L1846.8 414.3L1844.5 434.1M1882.9 438.4L1872.4 417.3M1888.5 429.2L1872.4 417.3L1872.2 437.3M1913.1 436.9L1899.5 418.8M1917.5 427.6L1899.5 418.8L1902.9 438.5M1940.2 436.9L1928.1 418.8M1945.6 428.6L1928.1 418.8L1930.5 438.6M1962.8 429.3L1950.8 415.8M1969.4 423.1L1950.8 415.8L1955.8 435.1M1516.8 444.4L1531.8 468.5M1514.7 458.2L1531.8 468.5L1530.1 448.6M1542.4 436.9L1569.5 470.0M1551.2 462.0L1569.5 470.0L1565.2 450.5M1655.4 473.0L1682.5 433.9M1679.8 453.7L1682.5 433.9L1664.9 443.3M1688.5 474.5L1708.1 436.9M1708.0 456.9L1708.1 436.9L1691.9 448.5M1723.2 471.5L1730.7 438.4M1735.6 457.8L1730.7 438.4L1717.9 453.7M1754.9 470.0L1757.9 439.9M1765.1 458.5L1757.9 439.9L1747.1 456.7M1785.0 468.5L1782.0 441.4M1793.0 458.1L1782.0 441.4L1774.9 460.1M1813.6 468.5L1807.6 442.9M1820.5 458.2L1807.6 442.9L1802.8 462.3M1842.3 468.5L1833.2 441.4M1847.5 455.4L1833.2 441.4L1830.2 461.2M1872.4 468.5L1861.8 442.9M1877.0 455.9L1861.8 442.9L1860.2 462.8M1901.0 465.5L1890.5 444.4M1906.6 456.3L1890.5 444.4L1890.3 464.4M1929.7 465.5L1919.1 444.4M1935.2 456.3L1919.1 444.4L1919.0 464.4M1959.8 462.5L1947.7 441.4M1964.5 452.4L1947.7 441.4L1948.7 461.4M1519.8 492.6L1543.9 513.7M1524.5 508.8L1543.9 513.7L1536.4 495.2M1542.4 486.6L1583.1 516.7M1563.3 513.4L1583.1 516.7L1574.1 498.8M1653.9 516.7L1699.1 485.1M1689.7 502.7L1699.1 485.1L1679.3 487.9M1687.0 519.7L1721.7 483.6M1715.9 502.7L1721.7 483.6L1702.8 490.2M1721.7 518.2L1745.8 482.1M1743.5 501.9L1745.8 482.1L1728.4 491.9M1754.9 516.7L1769.9 485.1M1770.5 505.1L1769.9 485.1L1754.1 497.3M1785.0 516.7L1797.0 486.6M1798.9 506.5L1797.0 486.6L1782.0 499.8M1818.1 516.7L1824.2 486.6M1829.6 505.8L1824.2 486.6L1811.8 502.3M1848.3 516.7L1852.8 488.1M1859.0 507.1L1852.8 488.1L1841.1 504.3M1878.4 516.7L1879.9 486.6M1888.1 504.8L1879.9 486.6L1870.0 503.9M1907.1 515.2L1908.6 488.1M1916.6 506.4L1908.6 488.1L1898.5 505.4M1938.7 513.7L1937.2 489.6M1947.4 506.8L1937.2 489.6L1929.2 508.0M1530.3 533.3L1563.5 551.4M1543.5 550.8L1563.5 551.4L1552.2 534.9M1554.4 530.3L1601.1 549.9M1581.2 551.4L1601.1 549.9L1588.2 534.6M1694.6 557.4L1744.3 522.8M1734.9 540.4L1744.3 522.8L1724.5 525.5M1726.2 560.4L1769.9 521.3M1762.7 539.9L1769.9 521.3L1750.6 526.4M1759.4 560.4L1794.0 522.8M1788.6 542.0L1794.0 522.8L1775.3 529.7M1792.5 558.9L1818.1 524.3M1814.9 544.0L1818.1 524.3L1800.2 533.2M1825.7 557.4L1846.8 524.3M1844.9 544.2L1846.8 524.3L1829.5 534.4M1852.8 558.9L1876.9 524.3M1874.2 544.1L1876.9 524.3L1859.3 533.7M1882.9 558.9L1904.0 525.8M1902.1 545.7L1904.0 525.8L1886.8 535.9M1910.1 558.9L1931.2 528.8M1928.4 548.6L1931.2 528.8L1913.5 538.2M1940.2 557.4L1953.8 531.8M1953.5 551.8L1953.8 531.8L1937.4 543.3M1554.4 584.5L1585.2 601.7M1565.2 601.0L1585.2 601.7L1574.0 585.1M1580.0 589.1L1620.7 598.1M1601.4 603.1L1620.7 598.1L1605.3 585.4M1804.6 610.2L1851.3 574.0M1842.8 592.1L1851.3 574.0L1831.6 577.7M1839.2 610.2L1875.4 574.0M1869.2 593.0L1875.4 574.0L1856.4 580.2M1873.9 608.7L1898.0 575.5M1894.9 595.3L1898.0 575.5L1880.2 584.6M1904.0 607.1L1923.6 580.0M1920.6 599.8L1923.6 580.0L1905.8 589.2M1934.2 604.1L1949.2 583.0M1946.3 602.8L1949.2 583.0L1931.5 592.3M1625.3 625.2L1654.8 640.9M1634.8 640.6L1654.8 640.9L1643.3 624.5M1656.9 625.2L1686.4 640.9M1666.4 640.6L1686.4 640.9L1675.0 624.5M1688.5 625.2L1718.1 640.9M1698.1 640.6L1718.1 640.9L1706.6 624.5M1720.2 625.2L1749.7 640.9M1729.7 640.6L1749.7 640.9L1738.2 624.5M1751.8 625.2L1781.4 640.9M1761.4 640.6L1781.4 640.9L1769.9 624.5M1783.5 625.2L1813.0 640.9M1793.0 640.6L1813.0 640.9L1801.5 624.5M1815.1 625.2L1844.7 640.9M1824.7 640.6L1844.7 640.9L1833.2 624.5M1846.8 625.2L1876.3 640.9M1856.3 640.6L1876.3 640.9L1864.8 624.5M1878.4 625.2L1908.0 640.9M1888.0 640.6L1908.0 640.9L1896.5 624.5M1931.2 634.9L1991.4 624.6M1975.4 636.6L1991.4 624.6L1972.4 618.7M1497.2 454.3L1499.6 461.9M1485.6 447.6L1499.6 461.9L1502.9 442.2M1545.4 593.5L1547.8 601.1M1533.8 586.9L1547.8 601.1L1551.1 581.4M1466.7 594.1L1471.5 600.5M1453.6 591.7L1471.5 600.5L1468.1 580.8M1581.6 424.8Q1598.7 433.2 1617.7 430.8M1601.2 442.1L1617.7 430.8L1598.9 424.1M1614.7 436.9Q1629.9 429.9 1638.8 415.8M1637.0 435.7L1638.8 415.8L1621.7 426.0M1566.5 441.4Q1583.5 456.6 1605.7 462.5M1586.1 466.7L1605.7 462.5L1590.8 449.2M1587.6 451.9Q1609.6 456.4 1631.3 450.4M1616.5 463.9L1631.3 450.4L1611.7 446.4M1625.3 467.0Q1645.6 456.7 1656.9 436.9M1656.0 456.8L1656.9 436.9L1640.2 447.8M1568.0 491.1Q1590.7 506.1 1617.7 509.2M1599.0 516.2L1617.7 509.2L1601.0 498.2M1595.1 498.6Q1619.8 505.4 1644.8 500.2M1629.3 512.7L1644.8 500.2L1625.5 494.9M1620.7 509.2Q1649.5 505.7 1673.5 489.6M1663.7 507.1L1673.5 489.6L1653.6 492.0M1577.0 534.8Q1604.9 544.3 1634.3 542.4M1617.1 552.6L1634.3 542.4L1615.9 534.5M1602.7 540.8Q1634.6 545.7 1665.9 537.8M1650.9 551.0L1665.9 537.8L1646.5 533.3M1659.9 555.9Q1693.4 545.4 1720.2 522.8M1712.4 541.2L1720.2 522.8L1700.7 527.3M1599.6 592.1Q1628.4 595.9 1656.9 590.6M1641.1 602.8L1656.9 590.6L1637.7 584.9M1635.8 595.1Q1665.0 593.9 1691.6 581.5M1679.2 597.3L1691.6 581.5L1671.6 580.8M1672.0 608.7Q1715.4 597.8 1753.3 574.0M1743.1 591.2L1753.3 574.0L1733.4 575.8M1735.3 610.2Q1772.1 596.2 1804.6 574.0M1795.0 591.6L1804.6 574.0L1784.7 576.6" stroke="#000" stroke-width="3.9" fill="none" stroke-linecap="round" stroke-linejoin="round"/>
<text x="1030.4" y="37.3" font-size="50.5" text-anchor="middle">NATM - NACLM</text>
<text x="123.6" y="121" font-size="39.5">(a) MAM uw, omega 5S:5N</text>
<rect x="126.6" y="144.8" width="491" height="490.90000000000003" fill="none" stroke="#000" stroke-width="2.8"/>
<text x="86.1" y="158.5" font-size="40" text-anchor="end">150</text>
<text x="86.1" y="232.9" font-size="40" text-anchor="end">200</text>
<text x="86.1" y="290.7" font-size="40" text-anchor="end">250</text>
<text x="86.1" y="337.9" font-size="40" text-anchor="end">300</text>
<text x="86.1" y="412.3" font-size="40" text-anchor="end">400</text>
<text x="86.1" y="470.0" font-size="40" text-anchor="end">500</text>
<text x="86.1" y="557.1" font-size="40" text-anchor="end">700</text>
<text x="86.1" y="607.3" font-size="40" text-anchor="end">850</text>
<text x="86.1" y="649.4" font-size="40" text-anchor="end">1000</text>
<text x="226.7" y="707.8" font-size="40" text-anchor="middle">135E</text>
<text x="356.7" y="707.8" font-size="40" text-anchor="middle">180</text>
<text x="486.6" y="707.8" font-size="40" text-anchor="middle">135W</text>
<text x="616.6" y="707.8" font-size="40" text-anchor="middle">90W</text>
<path d="M112.6 144.8H126.6M112.6 219.2H126.6M112.6 277.0H126.6M112.6 324.2H126.6M112.6 398.6H126.6M112.6 456.3H126.6M112.6 543.4H126.6M112.6 593.6H126.6M112.6 635.7H126.6M227.7 635.7V650.7M357.7 635.7V650.7M487.6 635.7V650.7M617.6 635.7V650.7" stroke="#000" stroke-width="2.8" fill="none"/>
<rect x="557.9" y="144.8" width="59.7" height="59.4" fill="#fff" stroke="#000" stroke-width="1.3"/>
<text x="587.9" y="167" font-size="20" text-anchor="middle">2</text>
<path d="M562.4 183.5H612.9M596.9 175.5L613.4 183.5L596.9 191.5" stroke="#000" stroke-width="3.3" fill="none" stroke-linecap="round" stroke-linejoin="round"/>
<text x="794.7" y="121" font-size="39.5">(b) JJA uw, omega 5S:5N</text>
<rect x="797.7" y="144.8" width="491" height="490.90000000000003" fill="none" stroke="#000" stroke-width="2.8"/>
<text x="757.2" y="158.5" font-size="40" text-anchor="end">150</text>
<text x="757.2" y="232.9" font-size="40" text-anchor="end">200</text>
<text x="757.2" y="290.7" font-size="40" text-anchor="end">250</text>
<text x="757.2" y="337.9" font-size="40" text-anchor="end">300</text>
<text x="757.2" y="412.3" font-size="40" text-anchor="end">400</text>
<text x="757.2" y="470.0" font-size="40" text-anchor="end">500</text>
<text x="757.2" y="557.1" font-size="40" text-anchor="end">700</text>
<text x="757.2" y="607.3" font-size="40" text-anchor="end">850</text>
<text x="757.2" y="649.4" font-size="40" text-anchor="end">1000</text>
<text x="897.8" y="707.8" font-size="40" text-anchor="middle">135E</text>
<text x="1027.8" y="707.8" font-size="40" text-anchor="middle">180</text>
<text x="1157.7" y="707.8" font-size="40" text-anchor="middle">135W</text>
<text x="1287.7" y="707.8" font-size="40" text-anchor="middle">90W</text>
<path d="M783.7 144.8H797.7M783.7 219.2H797.7M783.7 277.0H797.7M783.7 324.2H797.7M783.7 398.6H797.7M783.7 456.3H797.7M783.7 543.4H797.7M783.7 593.6H797.7M783.7 635.7H797.7M898.8 635.7V650.7M1028.8 635.7V650.7M1158.7 635.7V650.7M1288.7 635.7V650.7" stroke="#000" stroke-width="2.8" fill="none"/>
<rect x="1229.0" y="144.8" width="59.7" height="59.4" fill="#fff" stroke="#000" stroke-width="1.3"/>
<text x="1259.0" y="167" font-size="20" text-anchor="middle">2</text>
<path d="M1233.5 183.5H1284.0M1268.0 175.5L1284.5 183.5L1268.0 191.5" stroke="#000" stroke-width="3.3" fill="none" stroke-linecap="round" stroke-linejoin="round"/>
<text x="1465.9" y="121" font-size="39.5">(c) SOND uw, omega 5S:5N</text>
<rect x="1468.9" y="144.8" width="491" height="490.90000000000003" fill="none" stroke="#000" stroke-width="2.8"/>
<text x="1428.4" y="158.5" font-size="40" text-anchor="end">150</text>
<text x="1428.4" y="232.9" font-size="40" text-anchor="end">200</text>
<text x="1428.4" y="290.7" font-size="40" text-anchor="end">250</text>
<text x="1428.4" y="337.9" font-size="40" text-anchor="end">300</text>
<text x="1428.4" y="412.3" font-size="40" text-anchor="end">400</text>
<text x="1428.4" y="470.0" font-size="40" text-anchor="end">500</text>
<text x="1428.4" y="557.1" font-size="40" text-anchor="end">700</text>
<text x="1428.4" y="607.3" font-size="40" text-anchor="end">850</text>
<text x="1428.4" y="649.4" font-size="40" text-anchor="end">1000</text>
<text x="1569.0" y="707.8" font-size="40" text-anchor="middle">135E</text>
<text x="1699.0" y="707.8" font-size="40" text-anchor="middle">180</text>
<text x="1828.9" y="707.8" font-size="40" text-anchor="middle">135W</text>
<text x="1958.9" y="707.8" font-size="40" text-anchor="middle">90W</text>
<path d="M1454.9 144.8H1468.9M1454.9 219.2H1468.9M1454.9 277.0H1468.9M1454.9 324.2H1468.9M1454.9 398.6H1468.9M1454.9 456.3H1468.9M1454.9 543.4H1468.9M1454.9 593.6H1468.9M1454.9 635.7H1468.9M1570.0 635.7V650.7M1700.0 635.7V650.7M1829.9 635.7V650.7M1959.9 635.7V650.7" stroke="#000" stroke-width="2.8" fill="none"/>
<rect x="1900.2" y="144.8" width="59.7" height="59.4" fill="#fff" stroke="#000" stroke-width="1.3"/>
<text x="1930.2" y="167" font-size="20" text-anchor="middle">2</text>
<path d="M1904.7 183.5H1955.2M1939.2 175.5L1955.7 183.5L1939.2 191.5" stroke="#000" stroke-width="3.3" fill="none" stroke-linecap="round" stroke-linejoin="round"/>
<text x="120.2" y="928.3" font-size="41.3">(d) MAM potential T 5S:5N</text>
<rect x="124.8" y="948.75" width="510.7" height="512.05" fill="none" stroke="#000" stroke-width="2.8"/>
<text x="81.3" y="1037.8" font-size="40" text-anchor="end">40</text>
<text x="81.3" y="1123.2" font-size="40" text-anchor="end">80</text>
<text x="81.3" y="1208.6" font-size="40" text-anchor="end">120</text>
<text x="81.3" y="1294.0" font-size="40" text-anchor="end">160</text>
<text x="81.3" y="1372.8" font-size="40" text-anchor="end">200</text>
<text x="81.3" y="1437.3" font-size="40" text-anchor="end">240</text>
<text x="269.5" y="1533" font-size="40" text-anchor="middle">180</text>
<text x="434.7" y="1533" font-size="40" text-anchor="middle">135W</text>
<text x="600.0" y="1533" font-size="40" text-anchor="middle">90W</text>
<path d="M117.0 959.4H124.8M117.0 980.8H124.8M117.0 1002.1H124.8M109.8 1023.5H124.8M117.0 1044.8H124.8M117.0 1066.2H124.8M117.0 1087.5H124.8M109.8 1108.9H124.8M117.0 1130.2H124.8M117.0 1151.6H124.8M117.0 1172.9H124.8M109.8 1194.3H124.8M117.0 1215.6H124.8M117.0 1237.0H124.8M117.0 1258.3H124.8M109.8 1279.7H124.8M117.0 1300.0H124.8M117.0 1320.5H124.8M117.0 1339.7H124.8M109.8 1358.5H124.8M117.0 1376.0H124.8M117.0 1392.7H124.8M117.0 1408.3H124.8M109.8 1423.0H124.8M117.0 1437.2H124.8M117.0 1450.7H124.8M269.5 1460.8V1475.5M434.7 1460.8V1475.5M600.0 1460.8V1475.5" stroke="#000" stroke-width="2.8" fill="none"/>
<text x="791.0" y="928.3" font-size="41.3">(e) JJA potential T 5S:5N</text>
<rect x="795.6" y="948.75" width="510.7" height="512.05" fill="none" stroke="#000" stroke-width="2.8"/>
<text x="752.1" y="1037.8" font-size="40" text-anchor="end">40</text>
<text x="752.1" y="1123.2" font-size="40" text-anchor="end">80</text>
<text x="752.1" y="1208.6" font-size="40" text-anchor="end">120</text>
<text x="752.1" y="1294.0" font-size="40" text-anchor="end">160</text>
<text x="752.1" y="1372.8" font-size="40" text-anchor="end">200</text>
<text x="752.1" y="1437.3" font-size="40" text-anchor="end">240</text>
<text x="940.3" y="1533" font-size="40" text-anchor="middle">180</text>
<text x="1105.5" y="1533" font-size="40" text-anchor="middle">135W</text>
<text x="1270.8" y="1533" font-size="40" text-anchor="middle">90W</text>
<path d="M787.8 959.4H795.6M787.8 980.8H795.6M787.8 1002.1H795.6M780.6 1023.5H795.6M787.8 1044.8H795.6M787.8 1066.2H795.6M787.8 1087.5H795.6M780.6 1108.9H795.6M787.8 1130.2H795.6M787.8 1151.6H795.6M787.8 1172.9H795.6M780.6 1194.3H795.6M787.8 1215.6H795.6M787.8 1237.0H795.6M787.8 1258.3H795.6M780.6 1279.7H795.6M787.8 1300.0H795.6M787.8 1320.5H795.6M787.8 1339.7H795.6M780.6 1358.5H795.6M787.8 1376.0H795.6M787.8 1392.7H795.6M787.8 1408.3H795.6M780.6 1423.0H795.6M787.8 1437.2H795.6M787.8 1450.7H795.6M940.3 1460.8V1475.5M1105.5 1460.8V1475.5M1270.8 1460.8V1475.5" stroke="#000" stroke-width="2.8" fill="none"/>
<text x="1462.2" y="928.3" font-size="41.3">(f) SOND potential T 5S:5N</text>
<rect x="1466.8" y="948.75" width="510.7" height="512.05" fill="none" stroke="#000" stroke-width="2.8"/>
<text x="1423.3" y="1037.8" font-size="40" text-anchor="end">40</text>
<text x="1423.3" y="1123.2" font-size="40" text-anchor="end">80</text>
<text x="1423.3" y="1208.6" font-size="40" text-anchor="end">120</text>
<text x="1423.3" y="1294.0" font-size="40" text-anchor="end">160</text>
<text x="1423.3" y="1372.8" font-size="40" text-anchor="end">200</text>
<text x="1423.3" y="1437.3" font-size="40" text-anchor="end">240</text>
<text x="1611.5" y="1533" font-size="40" text-anchor="middle">180</text>
<text x="1776.7" y="1533" font-size="40" text-anchor="middle">135W</text>
<text x="1942.0" y="1533" font-size="40" text-anchor="middle">90W</text>
<path d="M1459.0 959.4H1466.8M1459.0 980.8H1466.8M1459.0 1002.1H1466.8M1451.8 1023.5H1466.8M1459.0 1044.8H1466.8M1459.0 1066.2H1466.8M1459.0 1087.5H1466.8M1451.8 1108.9H1466.8M1459.0 1130.2H1466.8M1459.0 1151.6H1466.8M1459.0 1172.9H1466.8M1451.8 1194.3H1466.8M1459.0 1215.6H1466.8M1459.0 1237.0H1466.8M1459.0 1258.3H1466.8M1451.8 1279.7H1466.8M1459.0 1300.0H1466.8M1459.0 1320.5H1466.8M1459.0 1339.7H1466.8M1451.8 1358.5H1466.8M1459.0 1376.0H1466.8M1459.0 1392.7H1466.8M1459.0 1408.3H1466.8M1451.8 1423.0H1466.8M1459.0 1437.2H1466.8M1459.0 1450.7H1466.8M1611.5 1460.8V1475.5M1776.7 1460.8V1475.5M1942.0 1460.8V1475.5" stroke="#000" stroke-width="2.8" fill="none"/>
<rect x="335.70" y="743.8" width="34.97" height="42.8" fill="#8460d8" stroke="#000" stroke-width="1.7"/>
<rect x="370.67" y="743.8" width="34.97" height="42.8" fill="#6444d4" stroke="#000" stroke-width="1.7"/>
<rect x="405.64" y="743.8" width="34.97" height="42.8" fill="#422ace" stroke="#000" stroke-width="1.7"/>
<rect x="440.61" y="743.8" width="34.97" height="42.8" fill="#2114ca" stroke="#000" stroke-width="1.7"/>
<rect x="475.58" y="743.8" width="34.97" height="42.8" fill="#0004c8" stroke="#000" stroke-width="1.7"/>
<rect x="510.55" y="743.8" width="34.97" height="42.8" fill="#101cd0" stroke="#000" stroke-width="1.7"/>
<rect x="545.52" y="743.8" width="34.97" height="42.8" fill="#1e32d6" stroke="#000" stroke-width="1.7"/>
<rect x="580.49" y="743.8" width="34.97" height="42.8" fill="#2c48dc" stroke="#000" stroke-width="1.7"/>
<rect x="615.46" y="743.8" width="34.97" height="42.8" fill="#3a5ee2" stroke="#000" stroke-width="1.7"/>
<rect x="650.43" y="743.8" width="34.97" height="42.8" fill="#4870ea" stroke="#000" stroke-width="1.7"/>
<rect x="685.40" y="743.8" width="34.97" height="42.8" fill="#547aec" stroke="#000" stroke-width="1.7"/>
<rect x="720.37" y="743.8" width="34.97" height="42.8" fill="#6488ec" stroke="#000" stroke-width="1.7"/>
<rect x="755.34" y="743.8" width="34.97" height="42.8" fill="#7092f0" stroke="#000" stroke-width="1.7"/>
<rect x="790.31" y="743.8" width="34.97" height="42.8" fill="#7ca2f0" stroke="#000" stroke-width="1.7"/>
<rect x="825.28" y="743.8" width="34.97" height="42.8" fill="#8cbaee" stroke="#000" stroke-width="1.7"/>
<rect x="860.25" y="743.8" width="34.97" height="42.8" fill="#98ccea" stroke="#000" stroke-width="1.7"/>
<rect x="895.22" y="743.8" width="34.97" height="42.8" fill="#a4d6e6" stroke="#000" stroke-width="1.7"/>
<rect x="930.19" y="743.8" width="34.97" height="42.8" fill="#b0e0e6" stroke="#000" stroke-width="1.7"/>
<rect x="965.16" y="743.8" width="34.97" height="42.8" fill="#ace6ee" stroke="#000" stroke-width="1.7"/>
<rect x="1000.13" y="743.8" width="34.97" height="42.8" fill="#f0e0b4" stroke="#000" stroke-width="1.7"/>
<rect x="1035.10" y="743.8" width="34.97" height="42.8" fill="#ead2a4" stroke="#000" stroke-width="1.7"/>
<rect x="1070.07" y="743.8" width="34.97" height="42.8" fill="#e0b880" stroke="#000" stroke-width="1.7"/>
<rect x="1105.04" y="743.8" width="34.97" height="42.8" fill="#f0c046" stroke="#000" stroke-width="1.7"/>
<rect x="1140.01" y="743.8" width="34.97" height="42.8" fill="#ffe100" stroke="#000" stroke-width="1.7"/>
<rect x="1174.98" y="743.8" width="34.97" height="42.8" fill="#ffc400" stroke="#000" stroke-width="1.7"/>
<rect x="1209.95" y="743.8" width="34.97" height="42.8" fill="#ffa800" stroke="#000" stroke-width="1.7"/>
<rect x="1244.92" y="743.8" width="34.97" height="42.8" fill="#ff8a08" stroke="#000" stroke-width="1.7"/>
<rect x="1279.89" y="743.8" width="34.97" height="42.8" fill="#ff7204" stroke="#000" stroke-width="1.7"/>
<rect x="1314.86" y="743.8" width="34.97" height="42.8" fill="#ff5a00" stroke="#000" stroke-width="1.7"/>
<rect x="1349.83" y="743.8" width="34.97" height="42.8" fill="#fa4404" stroke="#000" stroke-width="1.7"/>
<rect x="1384.80" y="743.8" width="34.97" height="42.8" fill="#e83a10" stroke="#000" stroke-width="1.7"/>
<rect x="1419.77" y="743.8" width="34.97" height="42.8" fill="#da3018" stroke="#000" stroke-width="1.7"/>
<rect x="1454.74" y="743.8" width="34.97" height="42.8" fill="#c82820" stroke="#000" stroke-width="1.7"/>
<rect x="1489.71" y="743.8" width="34.97" height="42.8" fill="#b82024" stroke="#000" stroke-width="1.7"/>
<rect x="1524.68" y="743.8" width="34.97" height="42.8" fill="#c4383c" stroke="#000" stroke-width="1.7"/>
<rect x="1559.65" y="743.8" width="34.97" height="42.8" fill="#d45458" stroke="#000" stroke-width="1.7"/>
<rect x="1594.62" y="743.8" width="34.97" height="42.8" fill="#e27878" stroke="#000" stroke-width="1.7"/>
<rect x="1629.59" y="743.8" width="34.97" height="42.8" fill="#f29c9c" stroke="#000" stroke-width="1.7"/>
<text x="370.7" y="829.8" font-size="41" text-anchor="middle">-1.8</text>
<text x="475.6" y="829.8" font-size="41" text-anchor="middle">-1.5</text>
<text x="580.5" y="829.8" font-size="41" text-anchor="middle">-1.2</text>
<text x="685.4" y="829.8" font-size="41" text-anchor="middle">-0.9</text>
<text x="790.3" y="829.8" font-size="41" text-anchor="middle">-0.6</text>
<text x="895.2" y="829.8" font-size="41" text-anchor="middle">-0.3</text>
<text x="1000.1" y="829.8" font-size="41" text-anchor="middle">0</text>
<text x="1105.0" y="829.8" font-size="41" text-anchor="middle">0.3</text>
<text x="1210.0" y="829.8" font-size="41" text-anchor="middle">0.6</text>
<text x="1314.9" y="829.8" font-size="41" text-anchor="middle">0.9</text>
<text x="1419.8" y="829.8" font-size="41" text-anchor="middle">1.2</text>
<text x="1524.7" y="829.8" font-size="41" text-anchor="middle">1.5</text>
<text x="1629.6" y="829.8" font-size="41" text-anchor="middle">1.8</text>
<rect x="320.00" y="1572.8" width="34.93" height="42.6" fill="#8460d8" stroke="#000" stroke-width="1.7"/>
<rect x="354.93" y="1572.8" width="34.93" height="42.6" fill="#6444d4" stroke="#000" stroke-width="1.7"/>
<rect x="389.86" y="1572.8" width="34.93" height="42.6" fill="#422ace" stroke="#000" stroke-width="1.7"/>
<rect x="424.79" y="1572.8" width="34.93" height="42.6" fill="#2114ca" stroke="#000" stroke-width="1.7"/>
<rect x="459.72" y="1572.8" width="34.93" height="42.6" fill="#0004c8" stroke="#000" stroke-width="1.7"/>
<rect x="494.65" y="1572.8" width="34.93" height="42.6" fill="#101cd0" stroke="#000" stroke-width="1.7"/>
<rect x="529.58" y="1572.8" width="34.93" height="42.6" fill="#1e32d6" stroke="#000" stroke-width="1.7"/>
<rect x="564.51" y="1572.8" width="34.93" height="42.6" fill="#2c48dc" stroke="#000" stroke-width="1.7"/>
<rect x="599.44" y="1572.8" width="34.93" height="42.6" fill="#3a5ee2" stroke="#000" stroke-width="1.7"/>
<rect x="634.37" y="1572.8" width="34.93" height="42.6" fill="#4870ea" stroke="#000" stroke-width="1.7"/>
<rect x="669.30" y="1572.8" width="34.93" height="42.6" fill="#547aec" stroke="#000" stroke-width="1.7"/>
<rect x="704.23" y="1572.8" width="34.93" height="42.6" fill="#6488ec" stroke="#000" stroke-width="1.7"/>
<rect x="739.16" y="1572.8" width="34.93" height="42.6" fill="#7092f0" stroke="#000" stroke-width="1.7"/>
<rect x="774.09" y="1572.8" width="34.93" height="42.6" fill="#7ca2f0" stroke="#000" stroke-width="1.7"/>
<rect x="809.02" y="1572.8" width="34.93" height="42.6" fill="#8cbaee" stroke="#000" stroke-width="1.7"/>
<rect x="843.95" y="1572.8" width="34.93" height="42.6" fill="#98ccea" stroke="#000" stroke-width="1.7"/>
<rect x="878.88" y="1572.8" width="34.93" height="42.6" fill="#a4d6e6" stroke="#000" stroke-width="1.7"/>
<rect x="913.81" y="1572.8" width="34.93" height="42.6" fill="#b0e0e6" stroke="#000" stroke-width="1.7"/>
<rect x="948.74" y="1572.8" width="34.93" height="42.6" fill="#ffffff" stroke="#000" stroke-width="1.7"/>
<rect x="983.67" y="1572.8" width="34.93" height="42.6" fill="#ffffff" stroke="#000" stroke-width="1.7"/>
<rect x="1018.60" y="1572.8" width="34.93" height="42.6" fill="#ead2a4" stroke="#000" stroke-width="1.7"/>
<rect x="1053.53" y="1572.8" width="34.93" height="42.6" fill="#e0b880" stroke="#000" stroke-width="1.7"/>
<rect x="1088.46" y="1572.8" width="34.93" height="42.6" fill="#f0c046" stroke="#000" stroke-width="1.7"/>
<rect x="1123.39" y="1572.8" width="34.93" height="42.6" fill="#ffe100" stroke="#000" stroke-width="1.7"/>
<rect x="1158.32" y="1572.8" width="34.93" height="42.6" fill="#ffc400" stroke="#000" stroke-width="1.7"/>
<rect x="1193.25" y="1572.8" width="34.93" height="42.6" fill="#ffa800" stroke="#000" stroke-width="1.7"/>
<rect x="1228.18" y="1572.8" width="34.93" height="42.6" fill="#ff8a08" stroke="#000" stroke-width="1.7"/>
<rect x="1263.11" y="1572.8" width="34.93" height="42.6" fill="#ff7204" stroke="#000" stroke-width="1.7"/>
<rect x="1298.04" y="1572.8" width="34.93" height="42.6" fill="#ff5a00" stroke="#000" stroke-width="1.7"/>
<rect x="1332.97" y="1572.8" width="34.93" height="42.6" fill="#fa4404" stroke="#000" stroke-width="1.7"/>
<rect x="1367.90" y="1572.8" width="34.93" height="42.6" fill="#e83a10" stroke="#000" stroke-width="1.7"/>
<rect x="1402.83" y="1572.8" width="34.93" height="42.6" fill="#da3018" stroke="#000" stroke-width="1.7"/>
<rect x="1437.76" y="1572.8" width="34.93" height="42.6" fill="#c82820" stroke="#000" stroke-width="1.7"/>
<rect x="1472.69" y="1572.8" width="34.93" height="42.6" fill="#b82024" stroke="#000" stroke-width="1.7"/>
<rect x="1507.62" y="1572.8" width="34.93" height="42.6" fill="#c4383c" stroke="#000" stroke-width="1.7"/>
<rect x="1542.55" y="1572.8" width="34.93" height="42.6" fill="#d45458" stroke="#000" stroke-width="1.7"/>
<rect x="1577.48" y="1572.8" width="34.93" height="42.6" fill="#e27878" stroke="#000" stroke-width="1.7"/>
<rect x="1612.41" y="1572.8" width="34.93" height="42.6" fill="#f29c9c" stroke="#000" stroke-width="1.7"/>
<text x="424.8" y="1657.3" font-size="41" text-anchor="middle">-1.2</text>
<text x="564.5" y="1657.3" font-size="41" text-anchor="middle">-0.9</text>
<text x="704.2" y="1657.3" font-size="41" text-anchor="middle">-0.6</text>
<text x="844.0" y="1657.3" font-size="41" text-anchor="middle">-0.3</text>
<text x="983.7" y="1657.3" font-size="41" text-anchor="middle">0</text>
<text x="1123.4" y="1657.3" font-size="41" text-anchor="middle">0.3</text>
<text x="1263.1" y="1657.3" font-size="41" text-anchor="middle">0.6</text>
<text x="1402.8" y="1657.3" font-size="41" text-anchor="middle">0.9</text>
<text x="1542.5" y="1657.3" font-size="41" text-anchor="middle">1.2</text>
</svg>
</body></html>
